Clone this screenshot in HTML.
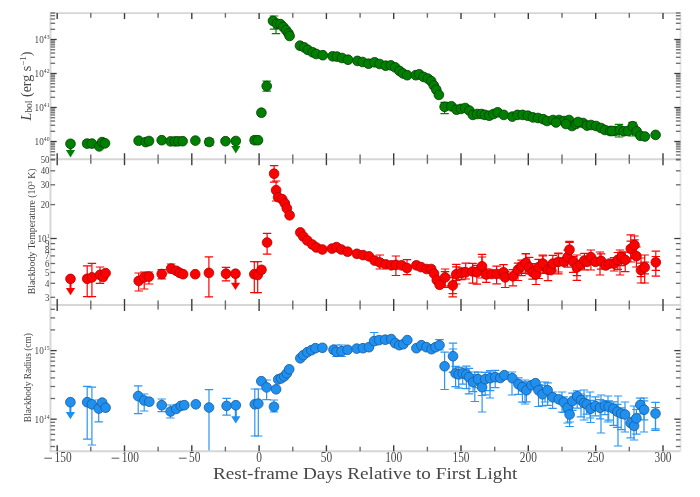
<!DOCTYPE html><html><head><meta charset="utf-8"><style>html,body{margin:0;padding:0;background:#fff;width:700px;height:497px;overflow:hidden;position:relative}</style></head><body><svg width="700" height="497" viewBox="0 0 700 497" style="position:absolute;left:0;top:0;filter:blur(0.4px)">
<defs>
<clipPath id="c0"><rect x="50.5" y="13.1" width="630.0" height="146.1"/></clipPath>
<clipPath id="c1"><rect x="50.5" y="159.2" width="630.0" height="145.8"/></clipPath>
<clipPath id="c2"><rect x="50.5" y="305.0" width="630.0" height="146.3"/></clipPath>
</defs>
<rect width="700" height="497" fill="#fff"/>
<g clip-path="url(#c0)">
<line x1="87.1" y1="140.5" x2="87.1" y2="146.5" stroke="#008000" stroke-width="1.2"/><line x1="82.9" y1="140.5" x2="91.3" y2="140.5" stroke="#008000" stroke-width="1.2"/><line x1="82.9" y1="146.5" x2="91.3" y2="146.5" stroke="#008000" stroke-width="1.2"/><line x1="209.2" y1="138.5" x2="209.2" y2="145.5" stroke="#008000" stroke-width="1.2"/><line x1="205.0" y1="138.5" x2="213.4" y2="138.5" stroke="#008000" stroke-width="1.2"/><line x1="205.0" y1="145.5" x2="213.4" y2="145.5" stroke="#008000" stroke-width="1.2"/><line x1="254.6" y1="137.0" x2="254.6" y2="143.5" stroke="#008000" stroke-width="1.2"/><line x1="250.4" y1="137.0" x2="258.8" y2="137.0" stroke="#008000" stroke-width="1.2"/><line x1="250.4" y1="143.5" x2="258.8" y2="143.5" stroke="#008000" stroke-width="1.2"/><line x1="266.7" y1="81.2" x2="266.7" y2="91.2" stroke="#008000" stroke-width="1.2"/><line x1="262.5" y1="81.2" x2="270.9" y2="81.2" stroke="#008000" stroke-width="1.2"/><line x1="262.5" y1="91.2" x2="270.9" y2="91.2" stroke="#008000" stroke-width="1.2"/><line x1="274.0" y1="16.0" x2="274.0" y2="29.2" stroke="#008000" stroke-width="1.2"/><line x1="269.8" y1="16.0" x2="278.2" y2="16.0" stroke="#008000" stroke-width="1.2"/><line x1="269.8" y1="29.2" x2="278.2" y2="29.2" stroke="#008000" stroke-width="1.2"/><line x1="276.0" y1="24.0" x2="276.0" y2="33.6" stroke="#008000" stroke-width="1.2"/><line x1="271.8" y1="24.0" x2="280.2" y2="24.0" stroke="#008000" stroke-width="1.2"/><line x1="271.8" y1="33.6" x2="280.2" y2="33.6" stroke="#008000" stroke-width="1.2"/><line x1="444.6" y1="102.3" x2="444.6" y2="113.7" stroke="#008000" stroke-width="1.2"/><line x1="440.4" y1="102.3" x2="448.8" y2="102.3" stroke="#008000" stroke-width="1.2"/><line x1="440.4" y1="113.7" x2="448.8" y2="113.7" stroke="#008000" stroke-width="1.2"/><line x1="619.0" y1="124.3" x2="619.0" y2="137.0" stroke="#008000" stroke-width="1.2"/><line x1="614.8" y1="124.3" x2="623.2" y2="124.3" stroke="#008000" stroke-width="1.2"/><line x1="614.8" y1="137.0" x2="623.2" y2="137.0" stroke="#008000" stroke-width="1.2"/><line x1="632.5" y1="122.4" x2="632.5" y2="136.0" stroke="#008000" stroke-width="1.2"/><line x1="628.3" y1="122.4" x2="636.7" y2="122.4" stroke="#008000" stroke-width="1.2"/><line x1="628.3" y1="136.0" x2="636.7" y2="136.0" stroke="#008000" stroke-width="1.2"/>
<line x1="70.5" y1="143.8" x2="70.5" y2="151.1" stroke="#008000" stroke-width="2"/><path d="M65.9 150.1 L75.1 150.1 L70.5 157.4Z" fill="#008000"/><line x1="235.8" y1="140.8" x2="235.8" y2="147.1" stroke="#008000" stroke-width="2"/><path d="M231.2 146.1 L240.4 146.1 L235.8 153.4Z" fill="#008000"/>
<circle cx="70.5" cy="143.8" r="4.85" fill="#008000" stroke="#003d00" stroke-width="0.8"/><circle cx="87.1" cy="143.6" r="4.85" fill="#008000" stroke="#003d00" stroke-width="0.8"/><circle cx="91.9" cy="143.6" r="4.85" fill="#008000" stroke="#003d00" stroke-width="0.8"/><circle cx="99.3" cy="146.4" r="4.85" fill="#008000" stroke="#003d00" stroke-width="0.8"/><circle cx="102.1" cy="142.1" r="4.85" fill="#008000" stroke="#003d00" stroke-width="0.8"/><circle cx="105.0" cy="143.3" r="4.85" fill="#008000" stroke="#003d00" stroke-width="0.8"/><circle cx="138.6" cy="140.7" r="4.85" fill="#008000" stroke="#003d00" stroke-width="0.8"/><circle cx="145.7" cy="142.1" r="4.85" fill="#008000" stroke="#003d00" stroke-width="0.8"/><circle cx="149.0" cy="141.0" r="4.85" fill="#008000" stroke="#003d00" stroke-width="0.8"/><circle cx="161.7" cy="140.2" r="4.85" fill="#008000" stroke="#003d00" stroke-width="0.8"/><circle cx="170.6" cy="141.4" r="4.85" fill="#008000" stroke="#003d00" stroke-width="0.8"/><circle cx="174.9" cy="141.4" r="4.85" fill="#008000" stroke="#003d00" stroke-width="0.8"/><circle cx="178.3" cy="141.3" r="4.85" fill="#008000" stroke="#003d00" stroke-width="0.8"/><circle cx="182.6" cy="141.2" r="4.85" fill="#008000" stroke="#003d00" stroke-width="0.8"/><circle cx="195.4" cy="140.6" r="4.85" fill="#008000" stroke="#003d00" stroke-width="0.8"/><circle cx="209.2" cy="142.0" r="4.85" fill="#008000" stroke="#003d00" stroke-width="0.8"/><circle cx="225.5" cy="141.2" r="4.85" fill="#008000" stroke="#003d00" stroke-width="0.8"/><circle cx="235.8" cy="141.0" r="4.85" fill="#008000" stroke="#003d00" stroke-width="0.8"/><circle cx="254.6" cy="140.2" r="4.85" fill="#008000" stroke="#003d00" stroke-width="0.8"/><circle cx="258.0" cy="140.2" r="4.85" fill="#008000" stroke="#003d00" stroke-width="0.8"/><circle cx="261.4" cy="112.7" r="4.85" fill="#008000" stroke="#003d00" stroke-width="0.8"/><circle cx="266.7" cy="86.1" r="4.85" fill="#008000" stroke="#003d00" stroke-width="0.8"/><circle cx="273.0" cy="20.9" r="4.85" fill="#008000" stroke="#003d00" stroke-width="0.8"/><circle cx="276.9" cy="23.7" r="4.85" fill="#008000" stroke="#003d00" stroke-width="0.8"/><circle cx="280.4" cy="24.1" r="4.85" fill="#008000" stroke="#003d00" stroke-width="0.8"/><circle cx="283.2" cy="26.9" r="4.85" fill="#008000" stroke="#003d00" stroke-width="0.8"/><circle cx="286.0" cy="30.1" r="4.85" fill="#008000" stroke="#003d00" stroke-width="0.8"/><circle cx="288.5" cy="33.4" r="4.85" fill="#008000" stroke="#003d00" stroke-width="0.8"/><circle cx="289.6" cy="36.0" r="4.85" fill="#008000" stroke="#003d00" stroke-width="0.8"/><circle cx="300.0" cy="45.7" r="4.85" fill="#008000" stroke="#003d00" stroke-width="0.8"/><circle cx="304.2" cy="47.4" r="4.85" fill="#008000" stroke="#003d00" stroke-width="0.8"/><circle cx="307.8" cy="49.9" r="4.85" fill="#008000" stroke="#003d00" stroke-width="0.8"/><circle cx="312.6" cy="52.3" r="4.85" fill="#008000" stroke="#003d00" stroke-width="0.8"/><circle cx="316.3" cy="54.0" r="4.85" fill="#008000" stroke="#003d00" stroke-width="0.8"/><circle cx="322.8" cy="55.2" r="4.85" fill="#008000" stroke="#003d00" stroke-width="0.8"/><circle cx="332.6" cy="56.3" r="4.85" fill="#008000" stroke="#003d00" stroke-width="0.8"/><circle cx="336.9" cy="56.6" r="4.85" fill="#008000" stroke="#003d00" stroke-width="0.8"/><circle cx="342.0" cy="58.0" r="4.85" fill="#008000" stroke="#003d00" stroke-width="0.8"/><circle cx="348.0" cy="59.7" r="4.85" fill="#008000" stroke="#003d00" stroke-width="0.8"/><circle cx="357.4" cy="60.9" r="4.85" fill="#008000" stroke="#003d00" stroke-width="0.8"/><circle cx="362.6" cy="62.0" r="4.85" fill="#008000" stroke="#003d00" stroke-width="0.8"/><circle cx="368.6" cy="63.7" r="4.85" fill="#008000" stroke="#003d00" stroke-width="0.8"/><circle cx="374.6" cy="62.3" r="4.85" fill="#008000" stroke="#003d00" stroke-width="0.8"/><circle cx="379.7" cy="64.0" r="4.85" fill="#008000" stroke="#003d00" stroke-width="0.8"/><circle cx="385.7" cy="65.7" r="4.85" fill="#008000" stroke="#003d00" stroke-width="0.8"/><circle cx="390.9" cy="65.4" r="4.85" fill="#008000" stroke="#003d00" stroke-width="0.8"/><circle cx="395.2" cy="67.4" r="4.85" fill="#008000" stroke="#003d00" stroke-width="0.8"/><circle cx="399.5" cy="70.9" r="4.85" fill="#008000" stroke="#003d00" stroke-width="0.8"/><circle cx="402.9" cy="73.4" r="4.85" fill="#008000" stroke="#003d00" stroke-width="0.8"/><circle cx="407.2" cy="75.2" r="4.85" fill="#008000" stroke="#003d00" stroke-width="0.8"/><circle cx="415.8" cy="75.2" r="4.85" fill="#008000" stroke="#003d00" stroke-width="0.8"/><circle cx="419.2" cy="74.3" r="4.85" fill="#008000" stroke="#003d00" stroke-width="0.8"/><circle cx="423.5" cy="76.9" r="4.85" fill="#008000" stroke="#003d00" stroke-width="0.8"/><circle cx="427.8" cy="78.6" r="4.85" fill="#008000" stroke="#003d00" stroke-width="0.8"/><circle cx="431.2" cy="81.2" r="4.85" fill="#008000" stroke="#003d00" stroke-width="0.8"/><circle cx="433.8" cy="85.5" r="4.85" fill="#008000" stroke="#003d00" stroke-width="0.8"/><circle cx="436.3" cy="89.7" r="4.85" fill="#008000" stroke="#003d00" stroke-width="0.8"/><circle cx="438.9" cy="94.9" r="4.85" fill="#008000" stroke="#003d00" stroke-width="0.8"/><circle cx="444.6" cy="106.8" r="4.85" fill="#008000" stroke="#003d00" stroke-width="0.8"/><circle cx="451.4" cy="106.3" r="4.85" fill="#008000" stroke="#003d00" stroke-width="0.8"/><circle cx="456.6" cy="109.7" r="4.85" fill="#008000" stroke="#003d00" stroke-width="0.8"/><circle cx="460.9" cy="108.9" r="4.85" fill="#008000" stroke="#003d00" stroke-width="0.8"/><circle cx="465.2" cy="108.0" r="4.85" fill="#008000" stroke="#003d00" stroke-width="0.8"/><circle cx="469.4" cy="110.6" r="4.85" fill="#008000" stroke="#003d00" stroke-width="0.8"/><circle cx="472.9" cy="114.9" r="4.85" fill="#008000" stroke="#003d00" stroke-width="0.8"/><circle cx="477.2" cy="114.0" r="4.85" fill="#008000" stroke="#003d00" stroke-width="0.8"/><circle cx="481.5" cy="114.0" r="4.85" fill="#008000" stroke="#003d00" stroke-width="0.8"/><circle cx="484.9" cy="114.9" r="4.85" fill="#008000" stroke="#003d00" stroke-width="0.8"/><circle cx="489.2" cy="115.7" r="4.85" fill="#008000" stroke="#003d00" stroke-width="0.8"/><circle cx="493.5" cy="114.0" r="4.85" fill="#008000" stroke="#003d00" stroke-width="0.8"/><circle cx="497.7" cy="112.3" r="4.85" fill="#008000" stroke="#003d00" stroke-width="0.8"/><circle cx="503.8" cy="114.9" r="4.85" fill="#008000" stroke="#003d00" stroke-width="0.8"/><circle cx="512.3" cy="116.6" r="4.85" fill="#008000" stroke="#003d00" stroke-width="0.8"/><circle cx="517.5" cy="114.9" r="4.85" fill="#008000" stroke="#003d00" stroke-width="0.8"/><circle cx="522.6" cy="114.9" r="4.85" fill="#008000" stroke="#003d00" stroke-width="0.8"/><circle cx="527.8" cy="115.7" r="4.85" fill="#008000" stroke="#003d00" stroke-width="0.8"/><circle cx="532.9" cy="117.4" r="4.85" fill="#008000" stroke="#003d00" stroke-width="0.8"/><circle cx="538.0" cy="118.0" r="4.85" fill="#008000" stroke="#003d00" stroke-width="0.8"/><circle cx="543.2" cy="119.2" r="4.85" fill="#008000" stroke="#003d00" stroke-width="0.8"/><circle cx="547.0" cy="121.0" r="4.85" fill="#008000" stroke="#003d00" stroke-width="0.8"/><circle cx="553.0" cy="120.0" r="4.85" fill="#008000" stroke="#003d00" stroke-width="0.8"/><circle cx="559.0" cy="120.0" r="4.85" fill="#008000" stroke="#003d00" stroke-width="0.8"/><circle cx="564.0" cy="121.0" r="4.85" fill="#008000" stroke="#003d00" stroke-width="0.8"/><circle cx="569.0" cy="120.0" r="4.85" fill="#008000" stroke="#003d00" stroke-width="0.8"/><circle cx="572.0" cy="126.0" r="4.85" fill="#008000" stroke="#003d00" stroke-width="0.8"/><circle cx="576.0" cy="124.0" r="4.85" fill="#008000" stroke="#003d00" stroke-width="0.8"/><circle cx="583.0" cy="123.0" r="4.85" fill="#008000" stroke="#003d00" stroke-width="0.8"/><circle cx="587.0" cy="125.6" r="4.85" fill="#008000" stroke="#003d00" stroke-width="0.8"/><circle cx="591.0" cy="125.0" r="4.85" fill="#008000" stroke="#003d00" stroke-width="0.8"/><circle cx="596.0" cy="126.0" r="4.85" fill="#008000" stroke="#003d00" stroke-width="0.8"/><circle cx="601.0" cy="128.0" r="4.85" fill="#008000" stroke="#003d00" stroke-width="0.8"/><circle cx="605.0" cy="130.0" r="4.85" fill="#008000" stroke="#003d00" stroke-width="0.8"/><circle cx="610.0" cy="131.0" r="4.85" fill="#008000" stroke="#003d00" stroke-width="0.8"/><circle cx="615.0" cy="131.0" r="4.85" fill="#008000" stroke="#003d00" stroke-width="0.8"/><circle cx="612.0" cy="131.0" r="4.85" fill="#008000" stroke="#003d00" stroke-width="0.8"/><circle cx="620.0" cy="130.0" r="4.85" fill="#008000" stroke="#003d00" stroke-width="0.8"/><circle cx="623.7" cy="131.3" r="4.85" fill="#008000" stroke="#003d00" stroke-width="0.8"/><circle cx="628.0" cy="131.0" r="4.85" fill="#008000" stroke="#003d00" stroke-width="0.8"/><circle cx="632.7" cy="126.2" r="4.85" fill="#008000" stroke="#003d00" stroke-width="0.8"/><circle cx="636.6" cy="131.3" r="4.85" fill="#008000" stroke="#003d00" stroke-width="0.8"/><circle cx="640.4" cy="135.8" r="4.85" fill="#008000" stroke="#003d00" stroke-width="0.8"/><circle cx="644.9" cy="136.5" r="4.85" fill="#008000" stroke="#003d00" stroke-width="0.8"/><circle cx="578.0" cy="122.0" r="4.85" fill="#008000" stroke="#003d00" stroke-width="0.8"/><circle cx="566.0" cy="124.0" r="4.85" fill="#008000" stroke="#003d00" stroke-width="0.8"/><circle cx="556.0" cy="122.5" r="4.85" fill="#008000" stroke="#003d00" stroke-width="0.8"/><circle cx="655.6" cy="134.9" r="4.85" fill="#008000" stroke="#003d00" stroke-width="0.8"/>
</g>
<g clip-path="url(#c1)">
<line x1="87.2" y1="265.8" x2="87.2" y2="296.6" stroke="#ff0000" stroke-width="1.2"/><line x1="83.0" y1="265.8" x2="91.4" y2="265.8" stroke="#ff0000" stroke-width="1.2"/><line x1="83.0" y1="296.6" x2="91.4" y2="296.6" stroke="#ff0000" stroke-width="1.2"/><line x1="91.9" y1="263.4" x2="91.9" y2="296.6" stroke="#ff0000" stroke-width="1.2"/><line x1="87.7" y1="263.4" x2="96.1" y2="263.4" stroke="#ff0000" stroke-width="1.2"/><line x1="87.7" y1="296.6" x2="96.1" y2="296.6" stroke="#ff0000" stroke-width="1.2"/><line x1="100.0" y1="267.0" x2="100.0" y2="283.4" stroke="#ff0000" stroke-width="1.2"/><line x1="95.8" y1="267.0" x2="104.2" y2="267.0" stroke="#ff0000" stroke-width="1.2"/><line x1="95.8" y1="283.4" x2="104.2" y2="283.4" stroke="#ff0000" stroke-width="1.2"/><line x1="138.7" y1="273.0" x2="138.7" y2="291.0" stroke="#ff0000" stroke-width="1.2"/><line x1="134.5" y1="273.0" x2="142.9" y2="273.0" stroke="#ff0000" stroke-width="1.2"/><line x1="134.5" y1="291.0" x2="142.9" y2="291.0" stroke="#ff0000" stroke-width="1.2"/><line x1="144.2" y1="272.0" x2="144.2" y2="289.0" stroke="#ff0000" stroke-width="1.2"/><line x1="140.0" y1="272.0" x2="148.4" y2="272.0" stroke="#ff0000" stroke-width="1.2"/><line x1="140.0" y1="289.0" x2="148.4" y2="289.0" stroke="#ff0000" stroke-width="1.2"/><line x1="149.0" y1="272.0" x2="149.0" y2="284.0" stroke="#ff0000" stroke-width="1.2"/><line x1="144.8" y1="272.0" x2="153.2" y2="272.0" stroke="#ff0000" stroke-width="1.2"/><line x1="144.8" y1="284.0" x2="153.2" y2="284.0" stroke="#ff0000" stroke-width="1.2"/><line x1="161.7" y1="269.7" x2="161.7" y2="278.8" stroke="#ff0000" stroke-width="1.2"/><line x1="157.5" y1="269.7" x2="165.9" y2="269.7" stroke="#ff0000" stroke-width="1.2"/><line x1="157.5" y1="278.8" x2="165.9" y2="278.8" stroke="#ff0000" stroke-width="1.2"/><line x1="171.1" y1="264.0" x2="171.1" y2="273.0" stroke="#ff0000" stroke-width="1.2"/><line x1="166.9" y1="264.0" x2="175.3" y2="264.0" stroke="#ff0000" stroke-width="1.2"/><line x1="166.9" y1="273.0" x2="175.3" y2="273.0" stroke="#ff0000" stroke-width="1.2"/><line x1="208.9" y1="256.9" x2="208.9" y2="296.9" stroke="#ff0000" stroke-width="1.2"/><line x1="204.7" y1="256.9" x2="213.1" y2="256.9" stroke="#ff0000" stroke-width="1.2"/><line x1="204.7" y1="296.9" x2="213.1" y2="296.9" stroke="#ff0000" stroke-width="1.2"/><line x1="226.0" y1="267.4" x2="226.0" y2="280.9" stroke="#ff0000" stroke-width="1.2"/><line x1="221.8" y1="267.4" x2="230.2" y2="267.4" stroke="#ff0000" stroke-width="1.2"/><line x1="221.8" y1="280.9" x2="230.2" y2="280.9" stroke="#ff0000" stroke-width="1.2"/><line x1="254.3" y1="261.7" x2="254.3" y2="292.6" stroke="#ff0000" stroke-width="1.2"/><line x1="250.1" y1="261.7" x2="258.5" y2="261.7" stroke="#ff0000" stroke-width="1.2"/><line x1="250.1" y1="292.6" x2="258.5" y2="292.6" stroke="#ff0000" stroke-width="1.2"/><line x1="257.7" y1="261.7" x2="257.7" y2="292.6" stroke="#ff0000" stroke-width="1.2"/><line x1="253.5" y1="261.7" x2="261.9" y2="261.7" stroke="#ff0000" stroke-width="1.2"/><line x1="253.5" y1="292.6" x2="261.9" y2="292.6" stroke="#ff0000" stroke-width="1.2"/><line x1="267.1" y1="233.4" x2="267.1" y2="254.2" stroke="#ff0000" stroke-width="1.2"/><line x1="262.9" y1="233.4" x2="271.3" y2="233.4" stroke="#ff0000" stroke-width="1.2"/><line x1="262.9" y1="254.2" x2="271.3" y2="254.2" stroke="#ff0000" stroke-width="1.2"/><line x1="274.1" y1="165.6" x2="274.1" y2="182.1" stroke="#ff0000" stroke-width="1.2"/><line x1="269.9" y1="165.6" x2="278.3" y2="165.6" stroke="#ff0000" stroke-width="1.2"/><line x1="269.9" y1="182.1" x2="278.3" y2="182.1" stroke="#ff0000" stroke-width="1.2"/><line x1="276.1" y1="181.0" x2="276.1" y2="201.0" stroke="#ff0000" stroke-width="1.2"/><line x1="271.9" y1="181.0" x2="280.3" y2="181.0" stroke="#ff0000" stroke-width="1.2"/><line x1="271.9" y1="201.0" x2="280.3" y2="201.0" stroke="#ff0000" stroke-width="1.2"/><line x1="379.8" y1="255.0" x2="379.8" y2="269.0" stroke="#ff0000" stroke-width="1.2"/><line x1="375.6" y1="255.0" x2="384.0" y2="255.0" stroke="#ff0000" stroke-width="1.2"/><line x1="375.6" y1="269.0" x2="384.0" y2="269.0" stroke="#ff0000" stroke-width="1.2"/><line x1="395.9" y1="256.0" x2="395.9" y2="275.5" stroke="#ff0000" stroke-width="1.2"/><line x1="391.7" y1="256.0" x2="400.1" y2="256.0" stroke="#ff0000" stroke-width="1.2"/><line x1="391.7" y1="275.5" x2="400.1" y2="275.5" stroke="#ff0000" stroke-width="1.2"/><line x1="407.0" y1="259.7" x2="407.0" y2="274.6" stroke="#ff0000" stroke-width="1.2"/><line x1="402.8" y1="259.7" x2="411.2" y2="259.7" stroke="#ff0000" stroke-width="1.2"/><line x1="402.8" y1="274.6" x2="411.2" y2="274.6" stroke="#ff0000" stroke-width="1.2"/><line x1="445.1" y1="269.0" x2="445.1" y2="286.0" stroke="#ff0000" stroke-width="1.2"/><line x1="440.9" y1="269.0" x2="449.3" y2="269.0" stroke="#ff0000" stroke-width="1.2"/><line x1="440.9" y1="286.0" x2="449.3" y2="286.0" stroke="#ff0000" stroke-width="1.2"/><line x1="452.7" y1="276.0" x2="452.7" y2="296.9" stroke="#ff0000" stroke-width="1.2"/><line x1="448.5" y1="276.0" x2="456.9" y2="276.0" stroke="#ff0000" stroke-width="1.2"/><line x1="448.5" y1="296.9" x2="456.9" y2="296.9" stroke="#ff0000" stroke-width="1.2"/><line x1="456.3" y1="264.4" x2="456.3" y2="284.0" stroke="#ff0000" stroke-width="1.2"/><line x1="452.1" y1="264.4" x2="460.5" y2="264.4" stroke="#ff0000" stroke-width="1.2"/><line x1="452.1" y1="284.0" x2="460.5" y2="284.0" stroke="#ff0000" stroke-width="1.2"/><line x1="482.0" y1="254.3" x2="482.0" y2="278.0" stroke="#ff0000" stroke-width="1.2"/><line x1="477.8" y1="254.3" x2="486.2" y2="254.3" stroke="#ff0000" stroke-width="1.2"/><line x1="477.8" y1="278.0" x2="486.2" y2="278.0" stroke="#ff0000" stroke-width="1.2"/><line x1="569.5" y1="241.4" x2="569.5" y2="262.0" stroke="#ff0000" stroke-width="1.2"/><line x1="565.3" y1="241.4" x2="573.7" y2="241.4" stroke="#ff0000" stroke-width="1.2"/><line x1="565.3" y1="262.0" x2="573.7" y2="262.0" stroke="#ff0000" stroke-width="1.2"/><line x1="576.9" y1="255.0" x2="576.9" y2="280.4" stroke="#ff0000" stroke-width="1.2"/><line x1="572.7" y1="255.0" x2="581.1" y2="255.0" stroke="#ff0000" stroke-width="1.2"/><line x1="572.7" y1="280.4" x2="581.1" y2="280.4" stroke="#ff0000" stroke-width="1.2"/><line x1="630.8" y1="234.9" x2="630.8" y2="262.0" stroke="#ff0000" stroke-width="1.2"/><line x1="626.6" y1="234.9" x2="635.0" y2="234.9" stroke="#ff0000" stroke-width="1.2"/><line x1="626.6" y1="262.0" x2="635.0" y2="262.0" stroke="#ff0000" stroke-width="1.2"/><line x1="634.5" y1="236.0" x2="634.5" y2="258.0" stroke="#ff0000" stroke-width="1.2"/><line x1="630.3" y1="236.0" x2="638.7" y2="236.0" stroke="#ff0000" stroke-width="1.2"/><line x1="630.3" y1="258.0" x2="638.7" y2="258.0" stroke="#ff0000" stroke-width="1.2"/><line x1="655.8" y1="251.2" x2="655.8" y2="276.1" stroke="#ff0000" stroke-width="1.2"/><line x1="651.6" y1="251.2" x2="660.0" y2="251.2" stroke="#ff0000" stroke-width="1.2"/><line x1="651.6" y1="276.1" x2="660.0" y2="276.1" stroke="#ff0000" stroke-width="1.2"/><line x1="641.0" y1="258.0" x2="641.0" y2="283.0" stroke="#ff0000" stroke-width="1.2"/><line x1="636.8" y1="258.0" x2="645.2" y2="258.0" stroke="#ff0000" stroke-width="1.2"/><line x1="636.8" y1="283.0" x2="645.2" y2="283.0" stroke="#ff0000" stroke-width="1.2"/><line x1="644.7" y1="255.0" x2="644.7" y2="283.0" stroke="#ff0000" stroke-width="1.2"/><line x1="640.5" y1="255.0" x2="648.9" y2="255.0" stroke="#ff0000" stroke-width="1.2"/><line x1="640.5" y1="283.0" x2="648.9" y2="283.0" stroke="#ff0000" stroke-width="1.2"/><line x1="600.0" y1="252.0" x2="600.0" y2="275.0" stroke="#ff0000" stroke-width="1.2"/><line x1="595.8" y1="252.0" x2="604.2" y2="252.0" stroke="#ff0000" stroke-width="1.2"/><line x1="595.8" y1="275.0" x2="604.2" y2="275.0" stroke="#ff0000" stroke-width="1.2"/><line x1="620.0" y1="250.0" x2="620.0" y2="275.0" stroke="#ff0000" stroke-width="1.2"/><line x1="615.8" y1="250.0" x2="624.2" y2="250.0" stroke="#ff0000" stroke-width="1.2"/><line x1="615.8" y1="275.0" x2="624.2" y2="275.0" stroke="#ff0000" stroke-width="1.2"/><line x1="525.8" y1="254.0" x2="525.8" y2="272.0" stroke="#ff0000" stroke-width="1.2"/><line x1="521.6" y1="254.0" x2="530.0" y2="254.0" stroke="#ff0000" stroke-width="1.2"/><line x1="521.6" y1="272.0" x2="530.0" y2="272.0" stroke="#ff0000" stroke-width="1.2"/><line x1="542.9" y1="256.0" x2="542.9" y2="273.0" stroke="#ff0000" stroke-width="1.2"/><line x1="538.7" y1="256.0" x2="547.1" y2="256.0" stroke="#ff0000" stroke-width="1.2"/><line x1="538.7" y1="273.0" x2="547.1" y2="273.0" stroke="#ff0000" stroke-width="1.2"/><line x1="558.4" y1="253.0" x2="558.4" y2="272.0" stroke="#ff0000" stroke-width="1.2"/><line x1="554.2" y1="253.0" x2="562.6" y2="253.0" stroke="#ff0000" stroke-width="1.2"/><line x1="554.2" y1="272.0" x2="562.6" y2="272.0" stroke="#ff0000" stroke-width="1.2"/><line x1="590.9" y1="250.0" x2="590.9" y2="270.0" stroke="#ff0000" stroke-width="1.2"/><line x1="586.7" y1="250.0" x2="595.1" y2="250.0" stroke="#ff0000" stroke-width="1.2"/><line x1="586.7" y1="270.0" x2="595.1" y2="270.0" stroke="#ff0000" stroke-width="1.2"/><line x1="445.1" y1="271.6" x2="445.1" y2="287.3" stroke="#ff0000" stroke-width="1.2"/><line x1="440.9" y1="271.6" x2="449.3" y2="271.6" stroke="#ff0000" stroke-width="1.2"/><line x1="440.9" y1="287.3" x2="449.3" y2="287.3" stroke="#ff0000" stroke-width="1.2"/><line x1="452.7" y1="277.7" x2="452.7" y2="293.6" stroke="#ff0000" stroke-width="1.2"/><line x1="448.5" y1="277.7" x2="456.9" y2="277.7" stroke="#ff0000" stroke-width="1.2"/><line x1="448.5" y1="293.6" x2="456.9" y2="293.6" stroke="#ff0000" stroke-width="1.2"/><line x1="456.3" y1="266.8" x2="456.3" y2="280.5" stroke="#ff0000" stroke-width="1.2"/><line x1="452.1" y1="266.8" x2="460.5" y2="266.8" stroke="#ff0000" stroke-width="1.2"/><line x1="452.1" y1="280.5" x2="460.5" y2="280.5" stroke="#ff0000" stroke-width="1.2"/><line x1="461.4" y1="267.8" x2="461.4" y2="279.6" stroke="#ff0000" stroke-width="1.2"/><line x1="457.2" y1="267.8" x2="465.6" y2="267.8" stroke="#ff0000" stroke-width="1.2"/><line x1="457.2" y1="279.6" x2="465.6" y2="279.6" stroke="#ff0000" stroke-width="1.2"/><line x1="465.7" y1="263.2" x2="465.7" y2="279.0" stroke="#ff0000" stroke-width="1.2"/><line x1="461.5" y1="263.2" x2="469.9" y2="263.2" stroke="#ff0000" stroke-width="1.2"/><line x1="461.5" y1="279.0" x2="469.9" y2="279.0" stroke="#ff0000" stroke-width="1.2"/><line x1="472.6" y1="263.4" x2="472.6" y2="283.2" stroke="#ff0000" stroke-width="1.2"/><line x1="468.4" y1="263.4" x2="476.8" y2="263.4" stroke="#ff0000" stroke-width="1.2"/><line x1="468.4" y1="283.2" x2="476.8" y2="283.2" stroke="#ff0000" stroke-width="1.2"/><line x1="476.9" y1="265.3" x2="476.9" y2="284.2" stroke="#ff0000" stroke-width="1.2"/><line x1="472.7" y1="265.3" x2="481.1" y2="265.3" stroke="#ff0000" stroke-width="1.2"/><line x1="472.7" y1="284.2" x2="481.1" y2="284.2" stroke="#ff0000" stroke-width="1.2"/><line x1="482.0" y1="257.0" x2="482.0" y2="274.0" stroke="#ff0000" stroke-width="1.2"/><line x1="477.8" y1="257.0" x2="486.2" y2="257.0" stroke="#ff0000" stroke-width="1.2"/><line x1="477.8" y1="274.0" x2="486.2" y2="274.0" stroke="#ff0000" stroke-width="1.2"/><line x1="486.3" y1="268.9" x2="486.3" y2="282.4" stroke="#ff0000" stroke-width="1.2"/><line x1="482.1" y1="268.9" x2="490.5" y2="268.9" stroke="#ff0000" stroke-width="1.2"/><line x1="482.1" y1="282.4" x2="490.5" y2="282.4" stroke="#ff0000" stroke-width="1.2"/><line x1="496.6" y1="266.1" x2="496.6" y2="283.8" stroke="#ff0000" stroke-width="1.2"/><line x1="492.4" y1="266.1" x2="500.8" y2="266.1" stroke="#ff0000" stroke-width="1.2"/><line x1="492.4" y1="283.8" x2="500.8" y2="283.8" stroke="#ff0000" stroke-width="1.2"/><line x1="503.5" y1="264.6" x2="503.5" y2="278.7" stroke="#ff0000" stroke-width="1.2"/><line x1="499.3" y1="264.6" x2="507.7" y2="264.6" stroke="#ff0000" stroke-width="1.2"/><line x1="499.3" y1="278.7" x2="507.7" y2="278.7" stroke="#ff0000" stroke-width="1.2"/><line x1="505.2" y1="271.4" x2="505.2" y2="287.5" stroke="#ff0000" stroke-width="1.2"/><line x1="501.0" y1="271.4" x2="509.4" y2="271.4" stroke="#ff0000" stroke-width="1.2"/><line x1="501.0" y1="287.5" x2="509.4" y2="287.5" stroke="#ff0000" stroke-width="1.2"/><line x1="512.9" y1="269.7" x2="512.9" y2="285.8" stroke="#ff0000" stroke-width="1.2"/><line x1="508.7" y1="269.7" x2="517.1" y2="269.7" stroke="#ff0000" stroke-width="1.2"/><line x1="508.7" y1="285.8" x2="517.1" y2="285.8" stroke="#ff0000" stroke-width="1.2"/><line x1="518.0" y1="263.2" x2="518.0" y2="280.5" stroke="#ff0000" stroke-width="1.2"/><line x1="513.8" y1="263.2" x2="522.2" y2="263.2" stroke="#ff0000" stroke-width="1.2"/><line x1="513.8" y1="280.5" x2="522.2" y2="280.5" stroke="#ff0000" stroke-width="1.2"/><line x1="521.5" y1="260.1" x2="521.5" y2="275.7" stroke="#ff0000" stroke-width="1.2"/><line x1="517.3" y1="260.1" x2="525.7" y2="260.1" stroke="#ff0000" stroke-width="1.2"/><line x1="517.3" y1="275.7" x2="525.7" y2="275.7" stroke="#ff0000" stroke-width="1.2"/><line x1="525.8" y1="253.5" x2="525.8" y2="273.3" stroke="#ff0000" stroke-width="1.2"/><line x1="521.6" y1="253.5" x2="530.0" y2="253.5" stroke="#ff0000" stroke-width="1.2"/><line x1="521.6" y1="273.3" x2="530.0" y2="273.3" stroke="#ff0000" stroke-width="1.2"/><line x1="529.2" y1="257.3" x2="529.2" y2="273.9" stroke="#ff0000" stroke-width="1.2"/><line x1="525.0" y1="257.3" x2="533.4" y2="257.3" stroke="#ff0000" stroke-width="1.2"/><line x1="525.0" y1="273.9" x2="533.4" y2="273.9" stroke="#ff0000" stroke-width="1.2"/><line x1="532.6" y1="263.5" x2="532.6" y2="279.2" stroke="#ff0000" stroke-width="1.2"/><line x1="528.4" y1="263.5" x2="536.8" y2="263.5" stroke="#ff0000" stroke-width="1.2"/><line x1="528.4" y1="279.2" x2="536.8" y2="279.2" stroke="#ff0000" stroke-width="1.2"/><line x1="536.0" y1="269.3" x2="536.0" y2="284.5" stroke="#ff0000" stroke-width="1.2"/><line x1="531.8" y1="269.3" x2="540.2" y2="269.3" stroke="#ff0000" stroke-width="1.2"/><line x1="531.8" y1="284.5" x2="540.2" y2="284.5" stroke="#ff0000" stroke-width="1.2"/><line x1="538.6" y1="259.3" x2="538.6" y2="278.5" stroke="#ff0000" stroke-width="1.2"/><line x1="534.4" y1="259.3" x2="542.8" y2="259.3" stroke="#ff0000" stroke-width="1.2"/><line x1="534.4" y1="278.5" x2="542.8" y2="278.5" stroke="#ff0000" stroke-width="1.2"/><line x1="542.9" y1="255.2" x2="542.9" y2="273.3" stroke="#ff0000" stroke-width="1.2"/><line x1="538.7" y1="255.2" x2="547.1" y2="255.2" stroke="#ff0000" stroke-width="1.2"/><line x1="538.7" y1="273.3" x2="547.1" y2="273.3" stroke="#ff0000" stroke-width="1.2"/><line x1="548.0" y1="262.4" x2="548.0" y2="280.7" stroke="#ff0000" stroke-width="1.2"/><line x1="543.8" y1="262.4" x2="552.2" y2="262.4" stroke="#ff0000" stroke-width="1.2"/><line x1="543.8" y1="280.7" x2="552.2" y2="280.7" stroke="#ff0000" stroke-width="1.2"/><line x1="552.8" y1="255.3" x2="552.8" y2="270.0" stroke="#ff0000" stroke-width="1.2"/><line x1="548.6" y1="255.3" x2="557.0" y2="255.3" stroke="#ff0000" stroke-width="1.2"/><line x1="548.6" y1="270.0" x2="557.0" y2="270.0" stroke="#ff0000" stroke-width="1.2"/><line x1="558.4" y1="253.6" x2="558.4" y2="273.8" stroke="#ff0000" stroke-width="1.2"/><line x1="554.2" y1="253.6" x2="562.6" y2="253.6" stroke="#ff0000" stroke-width="1.2"/><line x1="554.2" y1="273.8" x2="562.6" y2="273.8" stroke="#ff0000" stroke-width="1.2"/><line x1="567.6" y1="250.2" x2="567.6" y2="267.1" stroke="#ff0000" stroke-width="1.2"/><line x1="563.4" y1="250.2" x2="571.8" y2="250.2" stroke="#ff0000" stroke-width="1.2"/><line x1="563.4" y1="267.1" x2="571.8" y2="267.1" stroke="#ff0000" stroke-width="1.2"/><line x1="569.5" y1="242.4" x2="569.5" y2="256.7" stroke="#ff0000" stroke-width="1.2"/><line x1="565.3" y1="242.4" x2="573.7" y2="242.4" stroke="#ff0000" stroke-width="1.2"/><line x1="565.3" y1="256.7" x2="573.7" y2="256.7" stroke="#ff0000" stroke-width="1.2"/><line x1="573.2" y1="256.5" x2="573.2" y2="272.4" stroke="#ff0000" stroke-width="1.2"/><line x1="569.0" y1="256.5" x2="577.4" y2="256.5" stroke="#ff0000" stroke-width="1.2"/><line x1="569.0" y1="272.4" x2="577.4" y2="272.4" stroke="#ff0000" stroke-width="1.2"/><line x1="576.9" y1="261.2" x2="576.9" y2="275.7" stroke="#ff0000" stroke-width="1.2"/><line x1="572.7" y1="261.2" x2="581.1" y2="261.2" stroke="#ff0000" stroke-width="1.2"/><line x1="572.7" y1="275.7" x2="581.1" y2="275.7" stroke="#ff0000" stroke-width="1.2"/><line x1="584.4" y1="253.3" x2="584.4" y2="269.8" stroke="#ff0000" stroke-width="1.2"/><line x1="580.2" y1="253.3" x2="588.6" y2="253.3" stroke="#ff0000" stroke-width="1.2"/><line x1="580.2" y1="269.8" x2="588.6" y2="269.8" stroke="#ff0000" stroke-width="1.2"/><line x1="601.1" y1="253.8" x2="601.1" y2="269.1" stroke="#ff0000" stroke-width="1.2"/><line x1="596.9" y1="253.8" x2="605.3" y2="253.8" stroke="#ff0000" stroke-width="1.2"/><line x1="596.9" y1="269.1" x2="605.3" y2="269.1" stroke="#ff0000" stroke-width="1.2"/><line x1="614.1" y1="257.7" x2="614.1" y2="271.0" stroke="#ff0000" stroke-width="1.2"/><line x1="609.9" y1="257.7" x2="618.3" y2="257.7" stroke="#ff0000" stroke-width="1.2"/><line x1="609.9" y1="271.0" x2="618.3" y2="271.0" stroke="#ff0000" stroke-width="1.2"/><line x1="617.8" y1="252.5" x2="617.8" y2="269.4" stroke="#ff0000" stroke-width="1.2"/><line x1="613.6" y1="252.5" x2="622.0" y2="252.5" stroke="#ff0000" stroke-width="1.2"/><line x1="613.6" y1="269.4" x2="622.0" y2="269.4" stroke="#ff0000" stroke-width="1.2"/><line x1="621.5" y1="252.1" x2="621.5" y2="265.6" stroke="#ff0000" stroke-width="1.2"/><line x1="617.3" y1="252.1" x2="625.7" y2="252.1" stroke="#ff0000" stroke-width="1.2"/><line x1="617.3" y1="265.6" x2="625.7" y2="265.6" stroke="#ff0000" stroke-width="1.2"/><line x1="625.2" y1="252.1" x2="625.2" y2="271.6" stroke="#ff0000" stroke-width="1.2"/><line x1="621.0" y1="252.1" x2="629.4" y2="252.1" stroke="#ff0000" stroke-width="1.2"/><line x1="621.0" y1="271.6" x2="629.4" y2="271.6" stroke="#ff0000" stroke-width="1.2"/><line x1="630.8" y1="241.2" x2="630.8" y2="258.5" stroke="#ff0000" stroke-width="1.2"/><line x1="626.6" y1="241.2" x2="635.0" y2="241.2" stroke="#ff0000" stroke-width="1.2"/><line x1="626.6" y1="258.5" x2="635.0" y2="258.5" stroke="#ff0000" stroke-width="1.2"/><line x1="634.5" y1="239.8" x2="634.5" y2="256.5" stroke="#ff0000" stroke-width="1.2"/><line x1="630.3" y1="239.8" x2="638.7" y2="239.8" stroke="#ff0000" stroke-width="1.2"/><line x1="630.3" y1="256.5" x2="638.7" y2="256.5" stroke="#ff0000" stroke-width="1.2"/><line x1="636.4" y1="246.8" x2="636.4" y2="267.0" stroke="#ff0000" stroke-width="1.2"/><line x1="632.2" y1="246.8" x2="640.6" y2="246.8" stroke="#ff0000" stroke-width="1.2"/><line x1="632.2" y1="267.0" x2="640.6" y2="267.0" stroke="#ff0000" stroke-width="1.2"/><line x1="641.0" y1="263.1" x2="641.0" y2="276.7" stroke="#ff0000" stroke-width="1.2"/><line x1="636.8" y1="263.1" x2="645.2" y2="263.1" stroke="#ff0000" stroke-width="1.2"/><line x1="636.8" y1="276.7" x2="645.2" y2="276.7" stroke="#ff0000" stroke-width="1.2"/><line x1="644.7" y1="262.1" x2="644.7" y2="273.8" stroke="#ff0000" stroke-width="1.2"/><line x1="640.5" y1="262.1" x2="648.9" y2="262.1" stroke="#ff0000" stroke-width="1.2"/><line x1="640.5" y1="273.8" x2="648.9" y2="273.8" stroke="#ff0000" stroke-width="1.2"/><line x1="655.8" y1="256.5" x2="655.8" y2="270.3" stroke="#ff0000" stroke-width="1.2"/><line x1="651.6" y1="256.5" x2="660.0" y2="256.5" stroke="#ff0000" stroke-width="1.2"/><line x1="651.6" y1="270.3" x2="660.0" y2="270.3" stroke="#ff0000" stroke-width="1.2"/>
<line x1="70.5" y1="278.9" x2="70.5" y2="288.9" stroke="#ff0000" stroke-width="2"/><path d="M65.9 287.9 L75.1 287.9 L70.5 295.2Z" fill="#ff0000"/><line x1="235.5" y1="273.7" x2="235.5" y2="283.8" stroke="#ff0000" stroke-width="2"/><path d="M230.9 282.8 L240.1 282.8 L235.5 290.1Z" fill="#ff0000"/>
<circle cx="70.5" cy="278.9" r="4.85" fill="#ff0000" stroke="#b00000" stroke-width="0.8"/><circle cx="87.2" cy="278.8" r="4.85" fill="#ff0000" stroke="#b00000" stroke-width="0.8"/><circle cx="91.9" cy="277.4" r="4.85" fill="#ff0000" stroke="#b00000" stroke-width="0.8"/><circle cx="100.0" cy="274.9" r="4.85" fill="#ff0000" stroke="#b00000" stroke-width="0.8"/><circle cx="103.0" cy="277.0" r="4.85" fill="#ff0000" stroke="#b00000" stroke-width="0.8"/><circle cx="105.6" cy="273.1" r="4.85" fill="#ff0000" stroke="#b00000" stroke-width="0.8"/><circle cx="138.7" cy="280.9" r="4.85" fill="#ff0000" stroke="#b00000" stroke-width="0.8"/><circle cx="144.2" cy="277.4" r="4.85" fill="#ff0000" stroke="#b00000" stroke-width="0.8"/><circle cx="149.0" cy="276.6" r="4.85" fill="#ff0000" stroke="#b00000" stroke-width="0.8"/><circle cx="161.7" cy="274.0" r="4.85" fill="#ff0000" stroke="#b00000" stroke-width="0.8"/><circle cx="171.1" cy="268.6" r="4.85" fill="#ff0000" stroke="#b00000" stroke-width="0.8"/><circle cx="176.3" cy="270.8" r="4.85" fill="#ff0000" stroke="#b00000" stroke-width="0.8"/><circle cx="179.7" cy="272.9" r="4.85" fill="#ff0000" stroke="#b00000" stroke-width="0.8"/><circle cx="183.1" cy="274.2" r="4.85" fill="#ff0000" stroke="#b00000" stroke-width="0.8"/><circle cx="195.2" cy="274.2" r="4.85" fill="#ff0000" stroke="#b00000" stroke-width="0.8"/><circle cx="208.9" cy="272.9" r="4.85" fill="#ff0000" stroke="#b00000" stroke-width="0.8"/><circle cx="226.0" cy="273.7" r="4.85" fill="#ff0000" stroke="#b00000" stroke-width="0.8"/><circle cx="235.5" cy="273.7" r="4.85" fill="#ff0000" stroke="#b00000" stroke-width="0.8"/><circle cx="254.3" cy="274.2" r="4.85" fill="#ff0000" stroke="#b00000" stroke-width="0.8"/><circle cx="257.7" cy="275.0" r="4.85" fill="#ff0000" stroke="#b00000" stroke-width="0.8"/><circle cx="261.5" cy="269.8" r="4.85" fill="#ff0000" stroke="#b00000" stroke-width="0.8"/><circle cx="267.1" cy="242.5" r="4.85" fill="#ff0000" stroke="#b00000" stroke-width="0.8"/><circle cx="274.1" cy="173.7" r="4.85" fill="#ff0000" stroke="#b00000" stroke-width="0.8"/><circle cx="276.1" cy="190.2" r="4.85" fill="#ff0000" stroke="#b00000" stroke-width="0.8"/><circle cx="278.1" cy="197.2" r="4.85" fill="#ff0000" stroke="#b00000" stroke-width="0.8"/><circle cx="282.2" cy="199.2" r="4.85" fill="#ff0000" stroke="#b00000" stroke-width="0.8"/><circle cx="284.8" cy="203.3" r="4.85" fill="#ff0000" stroke="#b00000" stroke-width="0.8"/><circle cx="286.8" cy="208.3" r="4.85" fill="#ff0000" stroke="#b00000" stroke-width="0.8"/><circle cx="289.6" cy="215.3" r="4.85" fill="#ff0000" stroke="#b00000" stroke-width="0.8"/><circle cx="300.3" cy="232.4" r="4.85" fill="#ff0000" stroke="#b00000" stroke-width="0.8"/><circle cx="303.3" cy="236.5" r="4.85" fill="#ff0000" stroke="#b00000" stroke-width="0.8"/><circle cx="307.3" cy="240.5" r="4.85" fill="#ff0000" stroke="#b00000" stroke-width="0.8"/><circle cx="312.3" cy="244.5" r="4.85" fill="#ff0000" stroke="#b00000" stroke-width="0.8"/><circle cx="316.4" cy="247.5" r="4.85" fill="#ff0000" stroke="#b00000" stroke-width="0.8"/><circle cx="322.4" cy="249.5" r="4.85" fill="#ff0000" stroke="#b00000" stroke-width="0.8"/><circle cx="331.9" cy="248.6" r="4.85" fill="#ff0000" stroke="#b00000" stroke-width="0.8"/><circle cx="336.5" cy="247.1" r="4.85" fill="#ff0000" stroke="#b00000" stroke-width="0.8"/><circle cx="341.3" cy="249.5" r="4.85" fill="#ff0000" stroke="#b00000" stroke-width="0.8"/><circle cx="347.6" cy="251.7" r="4.85" fill="#ff0000" stroke="#b00000" stroke-width="0.8"/><circle cx="356.9" cy="253.8" r="4.85" fill="#ff0000" stroke="#b00000" stroke-width="0.8"/><circle cx="363.0" cy="255.1" r="4.85" fill="#ff0000" stroke="#b00000" stroke-width="0.8"/><circle cx="369.0" cy="256.4" r="4.85" fill="#ff0000" stroke="#b00000" stroke-width="0.8"/><circle cx="374.6" cy="260.6" r="4.85" fill="#ff0000" stroke="#b00000" stroke-width="0.8"/><circle cx="379.8" cy="262.5" r="4.85" fill="#ff0000" stroke="#b00000" stroke-width="0.8"/><circle cx="385.7" cy="264.4" r="4.85" fill="#ff0000" stroke="#b00000" stroke-width="0.8"/><circle cx="391.3" cy="265.3" r="4.85" fill="#ff0000" stroke="#b00000" stroke-width="0.8"/><circle cx="395.9" cy="264.9" r="4.85" fill="#ff0000" stroke="#b00000" stroke-width="0.8"/><circle cx="401.5" cy="265.3" r="4.85" fill="#ff0000" stroke="#b00000" stroke-width="0.8"/><circle cx="407.0" cy="268.0" r="4.85" fill="#ff0000" stroke="#b00000" stroke-width="0.8"/><circle cx="416.4" cy="265.3" r="4.85" fill="#ff0000" stroke="#b00000" stroke-width="0.8"/><circle cx="421.0" cy="267.1" r="4.85" fill="#ff0000" stroke="#b00000" stroke-width="0.8"/><circle cx="426.6" cy="269.0" r="4.85" fill="#ff0000" stroke="#b00000" stroke-width="0.8"/><circle cx="431.2" cy="269.0" r="4.85" fill="#ff0000" stroke="#b00000" stroke-width="0.8"/><circle cx="434.0" cy="273.6" r="4.85" fill="#ff0000" stroke="#b00000" stroke-width="0.8"/><circle cx="436.8" cy="280.1" r="4.85" fill="#ff0000" stroke="#b00000" stroke-width="0.8"/><circle cx="439.6" cy="284.8" r="4.85" fill="#ff0000" stroke="#b00000" stroke-width="0.8"/><circle cx="445.1" cy="277.4" r="4.85" fill="#ff0000" stroke="#b00000" stroke-width="0.8"/><circle cx="452.7" cy="285.4" r="4.85" fill="#ff0000" stroke="#b00000" stroke-width="0.8"/><circle cx="456.3" cy="274.3" r="4.85" fill="#ff0000" stroke="#b00000" stroke-width="0.8"/><circle cx="461.4" cy="273.1" r="4.85" fill="#ff0000" stroke="#b00000" stroke-width="0.8"/><circle cx="465.7" cy="272.3" r="4.85" fill="#ff0000" stroke="#b00000" stroke-width="0.8"/><circle cx="472.6" cy="271.5" r="4.85" fill="#ff0000" stroke="#b00000" stroke-width="0.8"/><circle cx="476.9" cy="272.3" r="4.85" fill="#ff0000" stroke="#b00000" stroke-width="0.8"/><circle cx="482.0" cy="266.3" r="4.85" fill="#ff0000" stroke="#b00000" stroke-width="0.8"/><circle cx="486.3" cy="274.5" r="4.85" fill="#ff0000" stroke="#b00000" stroke-width="0.8"/><circle cx="491.5" cy="274.0" r="4.85" fill="#ff0000" stroke="#b00000" stroke-width="0.8"/><circle cx="496.6" cy="274.0" r="4.85" fill="#ff0000" stroke="#b00000" stroke-width="0.8"/><circle cx="503.5" cy="272.3" r="4.85" fill="#ff0000" stroke="#b00000" stroke-width="0.8"/><circle cx="505.2" cy="277.4" r="4.85" fill="#ff0000" stroke="#b00000" stroke-width="0.8"/><circle cx="512.9" cy="276.3" r="4.85" fill="#ff0000" stroke="#b00000" stroke-width="0.8"/><circle cx="518.0" cy="269.7" r="4.85" fill="#ff0000" stroke="#b00000" stroke-width="0.8"/><circle cx="521.5" cy="266.3" r="4.85" fill="#ff0000" stroke="#b00000" stroke-width="0.8"/><circle cx="525.8" cy="262.9" r="4.85" fill="#ff0000" stroke="#b00000" stroke-width="0.8"/><circle cx="529.2" cy="267.2" r="4.85" fill="#ff0000" stroke="#b00000" stroke-width="0.8"/><circle cx="532.6" cy="272.3" r="4.85" fill="#ff0000" stroke="#b00000" stroke-width="0.8"/><circle cx="536.0" cy="274.5" r="4.85" fill="#ff0000" stroke="#b00000" stroke-width="0.8"/><circle cx="538.6" cy="267.2" r="4.85" fill="#ff0000" stroke="#b00000" stroke-width="0.8"/><circle cx="542.9" cy="263.7" r="4.85" fill="#ff0000" stroke="#b00000" stroke-width="0.8"/><circle cx="548.0" cy="269.7" r="4.85" fill="#ff0000" stroke="#b00000" stroke-width="0.8"/><circle cx="551.0" cy="270.1" r="4.85" fill="#ff0000" stroke="#b00000" stroke-width="0.8"/><circle cx="552.8" cy="263.6" r="4.85" fill="#ff0000" stroke="#b00000" stroke-width="0.8"/><circle cx="558.4" cy="261.8" r="4.85" fill="#ff0000" stroke="#b00000" stroke-width="0.8"/><circle cx="563.9" cy="261.8" r="4.85" fill="#ff0000" stroke="#b00000" stroke-width="0.8"/><circle cx="567.6" cy="257.1" r="4.85" fill="#ff0000" stroke="#b00000" stroke-width="0.8"/><circle cx="569.5" cy="249.7" r="4.85" fill="#ff0000" stroke="#b00000" stroke-width="0.8"/><circle cx="573.2" cy="261.8" r="4.85" fill="#ff0000" stroke="#b00000" stroke-width="0.8"/><circle cx="576.9" cy="267.4" r="4.85" fill="#ff0000" stroke="#b00000" stroke-width="0.8"/><circle cx="580.6" cy="264.6" r="4.85" fill="#ff0000" stroke="#b00000" stroke-width="0.8"/><circle cx="584.4" cy="260.5" r="4.85" fill="#ff0000" stroke="#b00000" stroke-width="0.8"/><circle cx="587.1" cy="261.8" r="4.85" fill="#ff0000" stroke="#b00000" stroke-width="0.8"/><circle cx="590.9" cy="257.1" r="4.85" fill="#ff0000" stroke="#b00000" stroke-width="0.8"/><circle cx="595.5" cy="261.8" r="4.85" fill="#ff0000" stroke="#b00000" stroke-width="0.8"/><circle cx="601.1" cy="260.9" r="4.85" fill="#ff0000" stroke="#b00000" stroke-width="0.8"/><circle cx="605.7" cy="265.5" r="4.85" fill="#ff0000" stroke="#b00000" stroke-width="0.8"/><circle cx="609.4" cy="263.6" r="4.85" fill="#ff0000" stroke="#b00000" stroke-width="0.8"/><circle cx="614.1" cy="263.6" r="4.85" fill="#ff0000" stroke="#b00000" stroke-width="0.8"/><circle cx="617.8" cy="259.9" r="4.85" fill="#ff0000" stroke="#b00000" stroke-width="0.8"/><circle cx="621.5" cy="257.1" r="4.85" fill="#ff0000" stroke="#b00000" stroke-width="0.8"/><circle cx="625.2" cy="259.9" r="4.85" fill="#ff0000" stroke="#b00000" stroke-width="0.8"/><circle cx="630.8" cy="248.8" r="4.85" fill="#ff0000" stroke="#b00000" stroke-width="0.8"/><circle cx="634.5" cy="245.1" r="4.85" fill="#ff0000" stroke="#b00000" stroke-width="0.8"/><circle cx="636.4" cy="256.2" r="4.85" fill="#ff0000" stroke="#b00000" stroke-width="0.8"/><circle cx="641.0" cy="270.1" r="4.85" fill="#ff0000" stroke="#b00000" stroke-width="0.8"/><circle cx="644.7" cy="267.4" r="4.85" fill="#ff0000" stroke="#b00000" stroke-width="0.8"/><circle cx="655.8" cy="262.3" r="4.85" fill="#ff0000" stroke="#b00000" stroke-width="0.8"/>
</g>
<g clip-path="url(#c2)">
<line x1="87.2" y1="386.3" x2="87.2" y2="439.1" stroke="#2a95f5" stroke-width="1.2"/><line x1="83.0" y1="386.3" x2="91.4" y2="386.3" stroke="#2a95f5" stroke-width="1.2"/><line x1="83.0" y1="439.1" x2="91.4" y2="439.1" stroke="#2a95f5" stroke-width="1.2"/><line x1="91.9" y1="387.2" x2="91.9" y2="445.0" stroke="#2a95f5" stroke-width="1.2"/><line x1="87.7" y1="387.2" x2="96.1" y2="387.2" stroke="#2a95f5" stroke-width="1.2"/><line x1="87.7" y1="445.0" x2="96.1" y2="445.0" stroke="#2a95f5" stroke-width="1.2"/><line x1="98.7" y1="400.0" x2="98.7" y2="421.8" stroke="#2a95f5" stroke-width="1.2"/><line x1="94.5" y1="400.0" x2="102.9" y2="400.0" stroke="#2a95f5" stroke-width="1.2"/><line x1="94.5" y1="421.8" x2="102.9" y2="421.8" stroke="#2a95f5" stroke-width="1.2"/><line x1="138.2" y1="385.8" x2="138.2" y2="413.7" stroke="#2a95f5" stroke-width="1.2"/><line x1="134.0" y1="385.8" x2="142.4" y2="385.8" stroke="#2a95f5" stroke-width="1.2"/><line x1="134.0" y1="413.7" x2="142.4" y2="413.7" stroke="#2a95f5" stroke-width="1.2"/><line x1="144.2" y1="394.0" x2="144.2" y2="411.0" stroke="#2a95f5" stroke-width="1.2"/><line x1="140.0" y1="394.0" x2="148.4" y2="394.0" stroke="#2a95f5" stroke-width="1.2"/><line x1="140.0" y1="411.0" x2="148.4" y2="411.0" stroke="#2a95f5" stroke-width="1.2"/><line x1="161.7" y1="399.0" x2="161.7" y2="411.7" stroke="#2a95f5" stroke-width="1.2"/><line x1="157.5" y1="399.0" x2="165.9" y2="399.0" stroke="#2a95f5" stroke-width="1.2"/><line x1="157.5" y1="411.7" x2="165.9" y2="411.7" stroke="#2a95f5" stroke-width="1.2"/><line x1="170.4" y1="405.0" x2="170.4" y2="418.0" stroke="#2a95f5" stroke-width="1.2"/><line x1="166.2" y1="405.0" x2="174.6" y2="405.0" stroke="#2a95f5" stroke-width="1.2"/><line x1="166.2" y1="418.0" x2="174.6" y2="418.0" stroke="#2a95f5" stroke-width="1.2"/><line x1="209.0" y1="389.7" x2="209.0" y2="460.0" stroke="#2a95f5" stroke-width="1.2"/><line x1="204.8" y1="389.7" x2="213.2" y2="389.7" stroke="#2a95f5" stroke-width="1.2"/><line x1="204.8" y1="460.0" x2="213.2" y2="460.0" stroke="#2a95f5" stroke-width="1.2"/><line x1="226.6" y1="398.3" x2="226.6" y2="415.1" stroke="#2a95f5" stroke-width="1.2"/><line x1="222.4" y1="398.3" x2="230.8" y2="398.3" stroke="#2a95f5" stroke-width="1.2"/><line x1="222.4" y1="415.1" x2="230.8" y2="415.1" stroke="#2a95f5" stroke-width="1.2"/><line x1="254.8" y1="389.0" x2="254.8" y2="436.0" stroke="#2a95f5" stroke-width="1.2"/><line x1="250.6" y1="389.0" x2="259.0" y2="389.0" stroke="#2a95f5" stroke-width="1.2"/><line x1="250.6" y1="436.0" x2="259.0" y2="436.0" stroke="#2a95f5" stroke-width="1.2"/><line x1="258.3" y1="389.0" x2="258.3" y2="436.0" stroke="#2a95f5" stroke-width="1.2"/><line x1="254.1" y1="389.0" x2="262.5" y2="389.0" stroke="#2a95f5" stroke-width="1.2"/><line x1="254.1" y1="436.0" x2="262.5" y2="436.0" stroke="#2a95f5" stroke-width="1.2"/><line x1="266.6" y1="380.0" x2="266.6" y2="399.7" stroke="#2a95f5" stroke-width="1.2"/><line x1="262.4" y1="380.0" x2="270.8" y2="380.0" stroke="#2a95f5" stroke-width="1.2"/><line x1="262.4" y1="399.7" x2="270.8" y2="399.7" stroke="#2a95f5" stroke-width="1.2"/><line x1="274.0" y1="400.0" x2="274.0" y2="412.0" stroke="#2a95f5" stroke-width="1.2"/><line x1="269.8" y1="400.0" x2="278.2" y2="400.0" stroke="#2a95f5" stroke-width="1.2"/><line x1="269.8" y1="412.0" x2="278.2" y2="412.0" stroke="#2a95f5" stroke-width="1.2"/><line x1="374.1" y1="332.5" x2="374.1" y2="345.0" stroke="#2a95f5" stroke-width="1.2"/><line x1="369.9" y1="332.5" x2="378.3" y2="332.5" stroke="#2a95f5" stroke-width="1.2"/><line x1="369.9" y1="345.0" x2="378.3" y2="345.0" stroke="#2a95f5" stroke-width="1.2"/><line x1="336.5" y1="345.0" x2="336.5" y2="356.5" stroke="#2a95f5" stroke-width="1.2"/><line x1="332.3" y1="345.0" x2="340.7" y2="345.0" stroke="#2a95f5" stroke-width="1.2"/><line x1="332.3" y1="356.5" x2="340.7" y2="356.5" stroke="#2a95f5" stroke-width="1.2"/><line x1="341.6" y1="345.0" x2="341.6" y2="356.5" stroke="#2a95f5" stroke-width="1.2"/><line x1="337.4" y1="345.0" x2="345.8" y2="345.0" stroke="#2a95f5" stroke-width="1.2"/><line x1="337.4" y1="356.5" x2="345.8" y2="356.5" stroke="#2a95f5" stroke-width="1.2"/><line x1="439.5" y1="339.7" x2="439.5" y2="350.0" stroke="#2a95f5" stroke-width="1.2"/><line x1="435.3" y1="339.7" x2="443.7" y2="339.7" stroke="#2a95f5" stroke-width="1.2"/><line x1="435.3" y1="350.0" x2="443.7" y2="350.0" stroke="#2a95f5" stroke-width="1.2"/><line x1="444.6" y1="352.2" x2="444.6" y2="389.5" stroke="#2a95f5" stroke-width="1.2"/><line x1="440.4" y1="352.2" x2="448.8" y2="352.2" stroke="#2a95f5" stroke-width="1.2"/><line x1="440.4" y1="389.5" x2="448.8" y2="389.5" stroke="#2a95f5" stroke-width="1.2"/><line x1="453.0" y1="343.2" x2="453.0" y2="372.0" stroke="#2a95f5" stroke-width="1.2"/><line x1="448.8" y1="343.2" x2="457.2" y2="343.2" stroke="#2a95f5" stroke-width="1.2"/><line x1="448.8" y1="372.0" x2="457.2" y2="372.0" stroke="#2a95f5" stroke-width="1.2"/><line x1="474.8" y1="372.0" x2="474.8" y2="401.5" stroke="#2a95f5" stroke-width="1.2"/><line x1="470.6" y1="372.0" x2="479.0" y2="372.0" stroke="#2a95f5" stroke-width="1.2"/><line x1="470.6" y1="401.5" x2="479.0" y2="401.5" stroke="#2a95f5" stroke-width="1.2"/><line x1="482.1" y1="380.0" x2="482.1" y2="412.0" stroke="#2a95f5" stroke-width="1.2"/><line x1="477.9" y1="380.0" x2="486.3" y2="380.0" stroke="#2a95f5" stroke-width="1.2"/><line x1="477.9" y1="412.0" x2="486.3" y2="412.0" stroke="#2a95f5" stroke-width="1.2"/><line x1="490.0" y1="372.0" x2="490.0" y2="398.0" stroke="#2a95f5" stroke-width="1.2"/><line x1="485.8" y1="372.0" x2="494.2" y2="372.0" stroke="#2a95f5" stroke-width="1.2"/><line x1="485.8" y1="398.0" x2="494.2" y2="398.0" stroke="#2a95f5" stroke-width="1.2"/><line x1="512.0" y1="372.0" x2="512.0" y2="395.0" stroke="#2a95f5" stroke-width="1.2"/><line x1="507.8" y1="372.0" x2="516.2" y2="372.0" stroke="#2a95f5" stroke-width="1.2"/><line x1="507.8" y1="395.0" x2="516.2" y2="395.0" stroke="#2a95f5" stroke-width="1.2"/><line x1="525.0" y1="380.0" x2="525.0" y2="404.0" stroke="#2a95f5" stroke-width="1.2"/><line x1="520.8" y1="380.0" x2="529.2" y2="380.0" stroke="#2a95f5" stroke-width="1.2"/><line x1="520.8" y1="404.0" x2="529.2" y2="404.0" stroke="#2a95f5" stroke-width="1.2"/><line x1="545.0" y1="382.0" x2="545.0" y2="402.0" stroke="#2a95f5" stroke-width="1.2"/><line x1="540.8" y1="382.0" x2="549.2" y2="382.0" stroke="#2a95f5" stroke-width="1.2"/><line x1="540.8" y1="402.0" x2="549.2" y2="402.0" stroke="#2a95f5" stroke-width="1.2"/><line x1="569.7" y1="402.0" x2="569.7" y2="422.0" stroke="#2a95f5" stroke-width="1.2"/><line x1="565.5" y1="402.0" x2="573.9" y2="402.0" stroke="#2a95f5" stroke-width="1.2"/><line x1="565.5" y1="422.0" x2="573.9" y2="422.0" stroke="#2a95f5" stroke-width="1.2"/><line x1="584.0" y1="390.0" x2="584.0" y2="420.0" stroke="#2a95f5" stroke-width="1.2"/><line x1="579.8" y1="390.0" x2="588.2" y2="390.0" stroke="#2a95f5" stroke-width="1.2"/><line x1="579.8" y1="420.0" x2="588.2" y2="420.0" stroke="#2a95f5" stroke-width="1.2"/><line x1="601.0" y1="395.0" x2="601.0" y2="433.0" stroke="#2a95f5" stroke-width="1.2"/><line x1="596.8" y1="395.0" x2="605.2" y2="395.0" stroke="#2a95f5" stroke-width="1.2"/><line x1="596.8" y1="433.0" x2="605.2" y2="433.0" stroke="#2a95f5" stroke-width="1.2"/><line x1="618.0" y1="396.0" x2="618.0" y2="446.0" stroke="#2a95f5" stroke-width="1.2"/><line x1="613.8" y1="396.0" x2="622.2" y2="396.0" stroke="#2a95f5" stroke-width="1.2"/><line x1="613.8" y1="446.0" x2="622.2" y2="446.0" stroke="#2a95f5" stroke-width="1.2"/><line x1="625.0" y1="402.0" x2="625.0" y2="432.0" stroke="#2a95f5" stroke-width="1.2"/><line x1="620.8" y1="402.0" x2="629.2" y2="402.0" stroke="#2a95f5" stroke-width="1.2"/><line x1="620.8" y1="432.0" x2="629.2" y2="432.0" stroke="#2a95f5" stroke-width="1.2"/><line x1="634.0" y1="406.0" x2="634.0" y2="440.0" stroke="#2a95f5" stroke-width="1.2"/><line x1="629.8" y1="406.0" x2="638.2" y2="406.0" stroke="#2a95f5" stroke-width="1.2"/><line x1="629.8" y1="440.0" x2="638.2" y2="440.0" stroke="#2a95f5" stroke-width="1.2"/><line x1="644.0" y1="398.0" x2="644.0" y2="432.0" stroke="#2a95f5" stroke-width="1.2"/><line x1="639.8" y1="398.0" x2="648.2" y2="398.0" stroke="#2a95f5" stroke-width="1.2"/><line x1="639.8" y1="432.0" x2="648.2" y2="432.0" stroke="#2a95f5" stroke-width="1.2"/><line x1="655.5" y1="402.4" x2="655.5" y2="430.3" stroke="#2a95f5" stroke-width="1.2"/><line x1="651.3" y1="402.4" x2="659.7" y2="402.4" stroke="#2a95f5" stroke-width="1.2"/><line x1="651.3" y1="430.3" x2="659.7" y2="430.3" stroke="#2a95f5" stroke-width="1.2"/><line x1="590.0" y1="392.0" x2="590.0" y2="418.0" stroke="#2a95f5" stroke-width="1.2"/><line x1="585.8" y1="392.0" x2="594.2" y2="392.0" stroke="#2a95f5" stroke-width="1.2"/><line x1="585.8" y1="418.0" x2="594.2" y2="418.0" stroke="#2a95f5" stroke-width="1.2"/><line x1="608.0" y1="396.0" x2="608.0" y2="422.0" stroke="#2a95f5" stroke-width="1.2"/><line x1="603.8" y1="396.0" x2="612.2" y2="396.0" stroke="#2a95f5" stroke-width="1.2"/><line x1="603.8" y1="422.0" x2="612.2" y2="422.0" stroke="#2a95f5" stroke-width="1.2"/><line x1="562.0" y1="392.0" x2="562.0" y2="412.0" stroke="#2a95f5" stroke-width="1.2"/><line x1="557.8" y1="392.0" x2="566.2" y2="392.0" stroke="#2a95f5" stroke-width="1.2"/><line x1="557.8" y1="412.0" x2="566.2" y2="412.0" stroke="#2a95f5" stroke-width="1.2"/><line x1="453.0" y1="349.0" x2="453.0" y2="372.5" stroke="#2a95f5" stroke-width="1.2"/><line x1="448.8" y1="349.0" x2="457.2" y2="349.0" stroke="#2a95f5" stroke-width="1.2"/><line x1="448.8" y1="372.5" x2="457.2" y2="372.5" stroke="#2a95f5" stroke-width="1.2"/><line x1="455.6" y1="366.4" x2="455.6" y2="386.7" stroke="#2a95f5" stroke-width="1.2"/><line x1="451.4" y1="366.4" x2="459.8" y2="366.4" stroke="#2a95f5" stroke-width="1.2"/><line x1="451.4" y1="386.7" x2="459.8" y2="386.7" stroke="#2a95f5" stroke-width="1.2"/><line x1="458.7" y1="367.4" x2="458.7" y2="388.1" stroke="#2a95f5" stroke-width="1.2"/><line x1="454.5" y1="367.4" x2="462.9" y2="367.4" stroke="#2a95f5" stroke-width="1.2"/><line x1="454.5" y1="388.1" x2="462.9" y2="388.1" stroke="#2a95f5" stroke-width="1.2"/><line x1="462.7" y1="368.0" x2="462.7" y2="384.1" stroke="#2a95f5" stroke-width="1.2"/><line x1="458.5" y1="368.0" x2="466.9" y2="368.0" stroke="#2a95f5" stroke-width="1.2"/><line x1="458.5" y1="384.1" x2="466.9" y2="384.1" stroke="#2a95f5" stroke-width="1.2"/><line x1="466.4" y1="366.2" x2="466.4" y2="388.6" stroke="#2a95f5" stroke-width="1.2"/><line x1="462.2" y1="366.2" x2="470.6" y2="366.2" stroke="#2a95f5" stroke-width="1.2"/><line x1="462.2" y1="388.6" x2="470.6" y2="388.6" stroke="#2a95f5" stroke-width="1.2"/><line x1="469.0" y1="368.3" x2="469.0" y2="393.9" stroke="#2a95f5" stroke-width="1.2"/><line x1="464.8" y1="368.3" x2="473.2" y2="368.3" stroke="#2a95f5" stroke-width="1.2"/><line x1="464.8" y1="393.9" x2="473.2" y2="393.9" stroke="#2a95f5" stroke-width="1.2"/><line x1="473.1" y1="374.7" x2="473.1" y2="391.6" stroke="#2a95f5" stroke-width="1.2"/><line x1="468.9" y1="374.7" x2="477.3" y2="374.7" stroke="#2a95f5" stroke-width="1.2"/><line x1="468.9" y1="391.6" x2="477.3" y2="391.6" stroke="#2a95f5" stroke-width="1.2"/><line x1="478.1" y1="372.1" x2="478.1" y2="387.7" stroke="#2a95f5" stroke-width="1.2"/><line x1="473.9" y1="372.1" x2="482.3" y2="372.1" stroke="#2a95f5" stroke-width="1.2"/><line x1="473.9" y1="387.7" x2="482.3" y2="387.7" stroke="#2a95f5" stroke-width="1.2"/><line x1="482.1" y1="381.2" x2="482.1" y2="395.5" stroke="#2a95f5" stroke-width="1.2"/><line x1="477.9" y1="381.2" x2="486.3" y2="381.2" stroke="#2a95f5" stroke-width="1.2"/><line x1="477.9" y1="395.5" x2="486.3" y2="395.5" stroke="#2a95f5" stroke-width="1.2"/><line x1="485.2" y1="372.4" x2="485.2" y2="394.8" stroke="#2a95f5" stroke-width="1.2"/><line x1="481.0" y1="372.4" x2="489.4" y2="372.4" stroke="#2a95f5" stroke-width="1.2"/><line x1="481.0" y1="394.8" x2="489.4" y2="394.8" stroke="#2a95f5" stroke-width="1.2"/><line x1="490.2" y1="370.6" x2="490.2" y2="390.7" stroke="#2a95f5" stroke-width="1.2"/><line x1="486.0" y1="370.6" x2="494.4" y2="370.6" stroke="#2a95f5" stroke-width="1.2"/><line x1="486.0" y1="390.7" x2="494.4" y2="390.7" stroke="#2a95f5" stroke-width="1.2"/><line x1="495.2" y1="370.4" x2="495.2" y2="387.7" stroke="#2a95f5" stroke-width="1.2"/><line x1="491.0" y1="370.4" x2="499.4" y2="370.4" stroke="#2a95f5" stroke-width="1.2"/><line x1="491.0" y1="387.7" x2="499.4" y2="387.7" stroke="#2a95f5" stroke-width="1.2"/><line x1="518.4" y1="377.9" x2="518.4" y2="394.3" stroke="#2a95f5" stroke-width="1.2"/><line x1="514.2" y1="377.9" x2="522.6" y2="377.9" stroke="#2a95f5" stroke-width="1.2"/><line x1="514.2" y1="394.3" x2="522.6" y2="394.3" stroke="#2a95f5" stroke-width="1.2"/><line x1="522.4" y1="381.9" x2="522.4" y2="402.1" stroke="#2a95f5" stroke-width="1.2"/><line x1="518.2" y1="381.9" x2="526.6" y2="381.9" stroke="#2a95f5" stroke-width="1.2"/><line x1="518.2" y1="402.1" x2="526.6" y2="402.1" stroke="#2a95f5" stroke-width="1.2"/><line x1="526.4" y1="381.9" x2="526.4" y2="401.8" stroke="#2a95f5" stroke-width="1.2"/><line x1="522.2" y1="381.9" x2="530.6" y2="381.9" stroke="#2a95f5" stroke-width="1.2"/><line x1="522.2" y1="401.8" x2="530.6" y2="401.8" stroke="#2a95f5" stroke-width="1.2"/><line x1="538.5" y1="384.5" x2="538.5" y2="406.5" stroke="#2a95f5" stroke-width="1.2"/><line x1="534.3" y1="384.5" x2="542.7" y2="384.5" stroke="#2a95f5" stroke-width="1.2"/><line x1="534.3" y1="406.5" x2="542.7" y2="406.5" stroke="#2a95f5" stroke-width="1.2"/><line x1="542.5" y1="385.4" x2="542.5" y2="405.9" stroke="#2a95f5" stroke-width="1.2"/><line x1="538.3" y1="385.4" x2="546.7" y2="385.4" stroke="#2a95f5" stroke-width="1.2"/><line x1="538.3" y1="405.9" x2="546.7" y2="405.9" stroke="#2a95f5" stroke-width="1.2"/><line x1="547.6" y1="382.8" x2="547.6" y2="405.3" stroke="#2a95f5" stroke-width="1.2"/><line x1="543.4" y1="382.8" x2="551.8" y2="382.8" stroke="#2a95f5" stroke-width="1.2"/><line x1="543.4" y1="405.3" x2="551.8" y2="405.3" stroke="#2a95f5" stroke-width="1.2"/><line x1="552.6" y1="392.0" x2="552.6" y2="408.3" stroke="#2a95f5" stroke-width="1.2"/><line x1="548.4" y1="392.0" x2="556.8" y2="392.0" stroke="#2a95f5" stroke-width="1.2"/><line x1="548.4" y1="408.3" x2="556.8" y2="408.3" stroke="#2a95f5" stroke-width="1.2"/><line x1="563.7" y1="396.8" x2="563.7" y2="412.5" stroke="#2a95f5" stroke-width="1.2"/><line x1="559.5" y1="396.8" x2="567.9" y2="396.8" stroke="#2a95f5" stroke-width="1.2"/><line x1="559.5" y1="412.5" x2="567.9" y2="412.5" stroke="#2a95f5" stroke-width="1.2"/><line x1="567.6" y1="402.6" x2="567.6" y2="423.0" stroke="#2a95f5" stroke-width="1.2"/><line x1="563.4" y1="402.6" x2="571.8" y2="402.6" stroke="#2a95f5" stroke-width="1.2"/><line x1="563.4" y1="423.0" x2="571.8" y2="423.0" stroke="#2a95f5" stroke-width="1.2"/><line x1="569.6" y1="407.3" x2="569.6" y2="426.5" stroke="#2a95f5" stroke-width="1.2"/><line x1="565.4" y1="407.3" x2="573.8" y2="407.3" stroke="#2a95f5" stroke-width="1.2"/><line x1="565.4" y1="426.5" x2="573.8" y2="426.5" stroke="#2a95f5" stroke-width="1.2"/><line x1="572.4" y1="393.2" x2="572.4" y2="410.3" stroke="#2a95f5" stroke-width="1.2"/><line x1="568.2" y1="393.2" x2="576.6" y2="393.2" stroke="#2a95f5" stroke-width="1.2"/><line x1="568.2" y1="410.3" x2="576.6" y2="410.3" stroke="#2a95f5" stroke-width="1.2"/><line x1="577.2" y1="390.8" x2="577.2" y2="408.1" stroke="#2a95f5" stroke-width="1.2"/><line x1="573.0" y1="390.8" x2="581.4" y2="390.8" stroke="#2a95f5" stroke-width="1.2"/><line x1="573.0" y1="408.1" x2="581.4" y2="408.1" stroke="#2a95f5" stroke-width="1.2"/><line x1="581.0" y1="394.0" x2="581.0" y2="416.8" stroke="#2a95f5" stroke-width="1.2"/><line x1="576.8" y1="394.0" x2="585.2" y2="394.0" stroke="#2a95f5" stroke-width="1.2"/><line x1="576.8" y1="416.8" x2="585.2" y2="416.8" stroke="#2a95f5" stroke-width="1.2"/><line x1="586.8" y1="395.8" x2="586.8" y2="414.2" stroke="#2a95f5" stroke-width="1.2"/><line x1="582.6" y1="395.8" x2="591.0" y2="395.8" stroke="#2a95f5" stroke-width="1.2"/><line x1="582.6" y1="414.2" x2="591.0" y2="414.2" stroke="#2a95f5" stroke-width="1.2"/><line x1="590.6" y1="400.3" x2="590.6" y2="422.5" stroke="#2a95f5" stroke-width="1.2"/><line x1="586.4" y1="400.3" x2="594.8" y2="400.3" stroke="#2a95f5" stroke-width="1.2"/><line x1="586.4" y1="422.5" x2="594.8" y2="422.5" stroke="#2a95f5" stroke-width="1.2"/><line x1="595.4" y1="396.9" x2="595.4" y2="415.8" stroke="#2a95f5" stroke-width="1.2"/><line x1="591.2" y1="396.9" x2="599.6" y2="396.9" stroke="#2a95f5" stroke-width="1.2"/><line x1="591.2" y1="415.8" x2="599.6" y2="415.8" stroke="#2a95f5" stroke-width="1.2"/><line x1="600.1" y1="399.7" x2="600.1" y2="418.8" stroke="#2a95f5" stroke-width="1.2"/><line x1="595.9" y1="399.7" x2="604.3" y2="399.7" stroke="#2a95f5" stroke-width="1.2"/><line x1="595.9" y1="418.8" x2="604.3" y2="418.8" stroke="#2a95f5" stroke-width="1.2"/><line x1="604.9" y1="400.6" x2="604.9" y2="414.7" stroke="#2a95f5" stroke-width="1.2"/><line x1="600.7" y1="400.6" x2="609.1" y2="400.6" stroke="#2a95f5" stroke-width="1.2"/><line x1="600.7" y1="414.7" x2="609.1" y2="414.7" stroke="#2a95f5" stroke-width="1.2"/><line x1="608.7" y1="400.8" x2="608.7" y2="420.2" stroke="#2a95f5" stroke-width="1.2"/><line x1="604.5" y1="400.8" x2="612.9" y2="400.8" stroke="#2a95f5" stroke-width="1.2"/><line x1="604.5" y1="420.2" x2="612.9" y2="420.2" stroke="#2a95f5" stroke-width="1.2"/><line x1="613.5" y1="401.9" x2="613.5" y2="425.3" stroke="#2a95f5" stroke-width="1.2"/><line x1="609.3" y1="401.9" x2="617.7" y2="401.9" stroke="#2a95f5" stroke-width="1.2"/><line x1="609.3" y1="425.3" x2="617.7" y2="425.3" stroke="#2a95f5" stroke-width="1.2"/><line x1="617.3" y1="404.3" x2="617.3" y2="427.4" stroke="#2a95f5" stroke-width="1.2"/><line x1="613.1" y1="404.3" x2="621.5" y2="404.3" stroke="#2a95f5" stroke-width="1.2"/><line x1="613.1" y1="427.4" x2="621.5" y2="427.4" stroke="#2a95f5" stroke-width="1.2"/><line x1="621.2" y1="407.9" x2="621.2" y2="429.7" stroke="#2a95f5" stroke-width="1.2"/><line x1="617.0" y1="407.9" x2="625.4" y2="407.9" stroke="#2a95f5" stroke-width="1.2"/><line x1="617.0" y1="429.7" x2="625.4" y2="429.7" stroke="#2a95f5" stroke-width="1.2"/><line x1="630.7" y1="417.3" x2="630.7" y2="437.8" stroke="#2a95f5" stroke-width="1.2"/><line x1="626.5" y1="417.3" x2="634.9" y2="417.3" stroke="#2a95f5" stroke-width="1.2"/><line x1="626.5" y1="437.8" x2="634.9" y2="437.8" stroke="#2a95f5" stroke-width="1.2"/><line x1="636.4" y1="409.5" x2="636.4" y2="434.2" stroke="#2a95f5" stroke-width="1.2"/><line x1="632.2" y1="409.5" x2="640.6" y2="409.5" stroke="#2a95f5" stroke-width="1.2"/><line x1="632.2" y1="434.2" x2="640.6" y2="434.2" stroke="#2a95f5" stroke-width="1.2"/><line x1="640.3" y1="398.2" x2="640.3" y2="413.8" stroke="#2a95f5" stroke-width="1.2"/><line x1="636.1" y1="398.2" x2="644.5" y2="398.2" stroke="#2a95f5" stroke-width="1.2"/><line x1="636.1" y1="413.8" x2="644.5" y2="413.8" stroke="#2a95f5" stroke-width="1.2"/><line x1="644.1" y1="400.8" x2="644.1" y2="419.8" stroke="#2a95f5" stroke-width="1.2"/><line x1="639.9" y1="400.8" x2="648.3" y2="400.8" stroke="#2a95f5" stroke-width="1.2"/><line x1="639.9" y1="419.8" x2="648.3" y2="419.8" stroke="#2a95f5" stroke-width="1.2"/><line x1="655.5" y1="407.5" x2="655.5" y2="428.9" stroke="#2a95f5" stroke-width="1.2"/><line x1="651.3" y1="407.5" x2="659.7" y2="407.5" stroke="#2a95f5" stroke-width="1.2"/><line x1="651.3" y1="428.9" x2="659.7" y2="428.9" stroke="#2a95f5" stroke-width="1.2"/>
<line x1="70.4" y1="402.2" x2="70.4" y2="413.0" stroke="#1f8ff0" stroke-width="2"/><path d="M65.8 412.0 L75.0 412.0 L70.4 419.3Z" fill="#1f8ff0"/><line x1="235.8" y1="405.2" x2="235.8" y2="417.3" stroke="#1f8ff0" stroke-width="2"/><path d="M231.2 416.3 L240.4 416.3 L235.8 423.6Z" fill="#1f8ff0"/>
<circle cx="70.4" cy="402.2" r="4.85" fill="#1f8ff0" stroke="#1a5c99" stroke-width="0.8"/><circle cx="87.2" cy="402.2" r="4.85" fill="#1f8ff0" stroke="#1a5c99" stroke-width="0.8"/><circle cx="91.9" cy="404.3" r="4.85" fill="#1f8ff0" stroke="#1a5c99" stroke-width="0.8"/><circle cx="98.7" cy="408.6" r="4.85" fill="#1f8ff0" stroke="#1a5c99" stroke-width="0.8"/><circle cx="102.2" cy="402.6" r="4.85" fill="#1f8ff0" stroke="#1a5c99" stroke-width="0.8"/><circle cx="105.6" cy="407.7" r="4.85" fill="#1f8ff0" stroke="#1a5c99" stroke-width="0.8"/><circle cx="138.2" cy="396.1" r="4.85" fill="#1f8ff0" stroke="#1a5c99" stroke-width="0.8"/><circle cx="144.2" cy="400.5" r="4.85" fill="#1f8ff0" stroke="#1a5c99" stroke-width="0.8"/><circle cx="149.3" cy="401.7" r="4.85" fill="#1f8ff0" stroke="#1a5c99" stroke-width="0.8"/><circle cx="161.7" cy="405.2" r="4.85" fill="#1f8ff0" stroke="#1a5c99" stroke-width="0.8"/><circle cx="170.6" cy="411.5" r="4.85" fill="#1f8ff0" stroke="#1a5c99" stroke-width="0.8"/><circle cx="176.2" cy="408.9" r="4.85" fill="#1f8ff0" stroke="#1a5c99" stroke-width="0.8"/><circle cx="180.8" cy="405.9" r="4.85" fill="#1f8ff0" stroke="#1a5c99" stroke-width="0.8"/><circle cx="184.3" cy="405.2" r="4.85" fill="#1f8ff0" stroke="#1a5c99" stroke-width="0.8"/><circle cx="195.8" cy="404.3" r="4.85" fill="#1f8ff0" stroke="#1a5c99" stroke-width="0.8"/><circle cx="209.0" cy="407.5" r="4.85" fill="#1f8ff0" stroke="#1a5c99" stroke-width="0.8"/><circle cx="226.6" cy="405.9" r="4.85" fill="#1f8ff0" stroke="#1a5c99" stroke-width="0.8"/><circle cx="235.8" cy="405.2" r="4.85" fill="#1f8ff0" stroke="#1a5c99" stroke-width="0.8"/><circle cx="254.8" cy="404.3" r="4.85" fill="#1f8ff0" stroke="#1a5c99" stroke-width="0.8"/><circle cx="258.3" cy="403.6" r="4.85" fill="#1f8ff0" stroke="#1a5c99" stroke-width="0.8"/><circle cx="261.3" cy="381.2" r="4.85" fill="#1f8ff0" stroke="#1a5c99" stroke-width="0.8"/><circle cx="266.6" cy="387.4" r="4.85" fill="#1f8ff0" stroke="#1a5c99" stroke-width="0.8"/><circle cx="274.0" cy="406.8" r="4.85" fill="#1f8ff0" stroke="#1a5c99" stroke-width="0.8"/><circle cx="276.1" cy="389.3" r="4.85" fill="#1f8ff0" stroke="#1a5c99" stroke-width="0.8"/><circle cx="278.2" cy="379.4" r="4.85" fill="#1f8ff0" stroke="#1a5c99" stroke-width="0.8"/><circle cx="281.2" cy="378.4" r="4.85" fill="#1f8ff0" stroke="#1a5c99" stroke-width="0.8"/><circle cx="284.2" cy="376.4" r="4.85" fill="#1f8ff0" stroke="#1a5c99" stroke-width="0.8"/><circle cx="286.8" cy="373.4" r="4.85" fill="#1f8ff0" stroke="#1a5c99" stroke-width="0.8"/><circle cx="289.2" cy="369.3" r="4.85" fill="#1f8ff0" stroke="#1a5c99" stroke-width="0.8"/><circle cx="300.3" cy="358.3" r="4.85" fill="#1f8ff0" stroke="#1a5c99" stroke-width="0.8"/><circle cx="303.3" cy="355.2" r="4.85" fill="#1f8ff0" stroke="#1a5c99" stroke-width="0.8"/><circle cx="307.3" cy="352.2" r="4.85" fill="#1f8ff0" stroke="#1a5c99" stroke-width="0.8"/><circle cx="311.4" cy="350.2" r="4.85" fill="#1f8ff0" stroke="#1a5c99" stroke-width="0.8"/><circle cx="315.4" cy="348.2" r="4.85" fill="#1f8ff0" stroke="#1a5c99" stroke-width="0.8"/><circle cx="322.4" cy="347.8" r="4.85" fill="#1f8ff0" stroke="#1a5c99" stroke-width="0.8"/><circle cx="333.5" cy="349.8" r="4.85" fill="#1f8ff0" stroke="#1a5c99" stroke-width="0.8"/><circle cx="336.5" cy="351.8" r="4.85" fill="#1f8ff0" stroke="#1a5c99" stroke-width="0.8"/><circle cx="341.6" cy="351.2" r="4.85" fill="#1f8ff0" stroke="#1a5c99" stroke-width="0.8"/><circle cx="347.6" cy="349.8" r="4.85" fill="#1f8ff0" stroke="#1a5c99" stroke-width="0.8"/><circle cx="356.7" cy="348.6" r="4.85" fill="#1f8ff0" stroke="#1a5c99" stroke-width="0.8"/><circle cx="363.0" cy="348.2" r="4.85" fill="#1f8ff0" stroke="#1a5c99" stroke-width="0.8"/><circle cx="369.0" cy="347.2" r="4.85" fill="#1f8ff0" stroke="#1a5c99" stroke-width="0.8"/><circle cx="374.1" cy="341.1" r="4.85" fill="#1f8ff0" stroke="#1a5c99" stroke-width="0.8"/><circle cx="379.1" cy="340.1" r="4.85" fill="#1f8ff0" stroke="#1a5c99" stroke-width="0.8"/><circle cx="385.2" cy="339.7" r="4.85" fill="#1f8ff0" stroke="#1a5c99" stroke-width="0.8"/><circle cx="391.2" cy="339.1" r="4.85" fill="#1f8ff0" stroke="#1a5c99" stroke-width="0.8"/><circle cx="395.2" cy="343.2" r="4.85" fill="#1f8ff0" stroke="#1a5c99" stroke-width="0.8"/><circle cx="399.3" cy="345.2" r="4.85" fill="#1f8ff0" stroke="#1a5c99" stroke-width="0.8"/><circle cx="403.3" cy="344.2" r="4.85" fill="#1f8ff0" stroke="#1a5c99" stroke-width="0.8"/><circle cx="407.3" cy="340.1" r="4.85" fill="#1f8ff0" stroke="#1a5c99" stroke-width="0.8"/><circle cx="416.4" cy="348.2" r="4.85" fill="#1f8ff0" stroke="#1a5c99" stroke-width="0.8"/><circle cx="421.4" cy="345.2" r="4.85" fill="#1f8ff0" stroke="#1a5c99" stroke-width="0.8"/><circle cx="426.4" cy="347.2" r="4.85" fill="#1f8ff0" stroke="#1a5c99" stroke-width="0.8"/><circle cx="431.5" cy="349.2" r="4.85" fill="#1f8ff0" stroke="#1a5c99" stroke-width="0.8"/><circle cx="435.5" cy="347.2" r="4.85" fill="#1f8ff0" stroke="#1a5c99" stroke-width="0.8"/><circle cx="439.5" cy="345.2" r="4.85" fill="#1f8ff0" stroke="#1a5c99" stroke-width="0.8"/><circle cx="444.6" cy="366.3" r="4.85" fill="#1f8ff0" stroke="#1a5c99" stroke-width="0.8"/><circle cx="453.0" cy="356.2" r="4.85" fill="#1f8ff0" stroke="#1a5c99" stroke-width="0.8"/><circle cx="455.6" cy="373.4" r="4.85" fill="#1f8ff0" stroke="#1a5c99" stroke-width="0.8"/><circle cx="458.7" cy="374.4" r="4.85" fill="#1f8ff0" stroke="#1a5c99" stroke-width="0.8"/><circle cx="462.7" cy="373.4" r="4.85" fill="#1f8ff0" stroke="#1a5c99" stroke-width="0.8"/><circle cx="466.4" cy="374.4" r="4.85" fill="#1f8ff0" stroke="#1a5c99" stroke-width="0.8"/><circle cx="469.0" cy="377.2" r="4.85" fill="#1f8ff0" stroke="#1a5c99" stroke-width="0.8"/><circle cx="473.1" cy="382.2" r="4.85" fill="#1f8ff0" stroke="#1a5c99" stroke-width="0.8"/><circle cx="478.1" cy="379.2" r="4.85" fill="#1f8ff0" stroke="#1a5c99" stroke-width="0.8"/><circle cx="482.1" cy="387.2" r="4.85" fill="#1f8ff0" stroke="#1a5c99" stroke-width="0.8"/><circle cx="485.2" cy="379.2" r="4.85" fill="#1f8ff0" stroke="#1a5c99" stroke-width="0.8"/><circle cx="490.2" cy="378.2" r="4.85" fill="#1f8ff0" stroke="#1a5c99" stroke-width="0.8"/><circle cx="495.2" cy="377.2" r="4.85" fill="#1f8ff0" stroke="#1a5c99" stroke-width="0.8"/><circle cx="500.3" cy="378.0" r="4.85" fill="#1f8ff0" stroke="#1a5c99" stroke-width="0.8"/><circle cx="504.3" cy="375.2" r="4.85" fill="#1f8ff0" stroke="#1a5c99" stroke-width="0.8"/><circle cx="512.3" cy="378.2" r="4.85" fill="#1f8ff0" stroke="#1a5c99" stroke-width="0.8"/><circle cx="518.4" cy="384.2" r="4.85" fill="#1f8ff0" stroke="#1a5c99" stroke-width="0.8"/><circle cx="522.4" cy="387.2" r="4.85" fill="#1f8ff0" stroke="#1a5c99" stroke-width="0.8"/><circle cx="526.4" cy="390.3" r="4.85" fill="#1f8ff0" stroke="#1a5c99" stroke-width="0.8"/><circle cx="531.5" cy="385.2" r="4.85" fill="#1f8ff0" stroke="#1a5c99" stroke-width="0.8"/><circle cx="535.5" cy="383.2" r="4.85" fill="#1f8ff0" stroke="#1a5c99" stroke-width="0.8"/><circle cx="538.5" cy="390.3" r="4.85" fill="#1f8ff0" stroke="#1a5c99" stroke-width="0.8"/><circle cx="542.5" cy="394.3" r="4.85" fill="#1f8ff0" stroke="#1a5c99" stroke-width="0.8"/><circle cx="547.6" cy="390.3" r="4.85" fill="#1f8ff0" stroke="#1a5c99" stroke-width="0.8"/><circle cx="552.6" cy="397.3" r="4.85" fill="#1f8ff0" stroke="#1a5c99" stroke-width="0.8"/><circle cx="558.7" cy="399.3" r="4.85" fill="#1f8ff0" stroke="#1a5c99" stroke-width="0.8"/><circle cx="563.7" cy="402.3" r="4.85" fill="#1f8ff0" stroke="#1a5c99" stroke-width="0.8"/><circle cx="567.6" cy="407.8" r="4.85" fill="#1f8ff0" stroke="#1a5c99" stroke-width="0.8"/><circle cx="569.6" cy="414.5" r="4.85" fill="#1f8ff0" stroke="#1a5c99" stroke-width="0.8"/><circle cx="572.4" cy="401.1" r="4.85" fill="#1f8ff0" stroke="#1a5c99" stroke-width="0.8"/><circle cx="577.2" cy="396.3" r="4.85" fill="#1f8ff0" stroke="#1a5c99" stroke-width="0.8"/><circle cx="581.0" cy="400.1" r="4.85" fill="#1f8ff0" stroke="#1a5c99" stroke-width="0.8"/><circle cx="583.9" cy="403.0" r="4.85" fill="#1f8ff0" stroke="#1a5c99" stroke-width="0.8"/><circle cx="586.8" cy="404.3" r="4.85" fill="#1f8ff0" stroke="#1a5c99" stroke-width="0.8"/><circle cx="590.6" cy="408.7" r="4.85" fill="#1f8ff0" stroke="#1a5c99" stroke-width="0.8"/><circle cx="595.4" cy="405.9" r="4.85" fill="#1f8ff0" stroke="#1a5c99" stroke-width="0.8"/><circle cx="600.1" cy="407.8" r="4.85" fill="#1f8ff0" stroke="#1a5c99" stroke-width="0.8"/><circle cx="604.9" cy="405.9" r="4.85" fill="#1f8ff0" stroke="#1a5c99" stroke-width="0.8"/><circle cx="608.7" cy="406.8" r="4.85" fill="#1f8ff0" stroke="#1a5c99" stroke-width="0.8"/><circle cx="613.5" cy="408.7" r="4.85" fill="#1f8ff0" stroke="#1a5c99" stroke-width="0.8"/><circle cx="617.3" cy="411.6" r="4.85" fill="#1f8ff0" stroke="#1a5c99" stroke-width="0.8"/><circle cx="621.2" cy="413.5" r="4.85" fill="#1f8ff0" stroke="#1a5c99" stroke-width="0.8"/><circle cx="625.0" cy="414.5" r="4.85" fill="#1f8ff0" stroke="#1a5c99" stroke-width="0.8"/><circle cx="630.7" cy="423.1" r="4.85" fill="#1f8ff0" stroke="#1a5c99" stroke-width="0.8"/><circle cx="634.1" cy="425.9" r="4.85" fill="#1f8ff0" stroke="#1a5c99" stroke-width="0.8"/><circle cx="636.4" cy="418.3" r="4.85" fill="#1f8ff0" stroke="#1a5c99" stroke-width="0.8"/><circle cx="640.3" cy="404.9" r="4.85" fill="#1f8ff0" stroke="#1a5c99" stroke-width="0.8"/><circle cx="644.1" cy="409.7" r="4.85" fill="#1f8ff0" stroke="#1a5c99" stroke-width="0.8"/><circle cx="655.5" cy="413.5" r="4.85" fill="#1f8ff0" stroke="#1a5c99" stroke-width="0.8"/>
</g>
<g stroke="#d6d6d6" stroke-width="1.9" fill="none">
<path d="M680.5 13.1 L50.5 13.1 L50.5 451.3 L680.5 451.3"/>
<line x1="680.5" y1="13.1" x2="680.5" y2="451.3" stroke="#e6e6e6"/>
<line x1="50.5" y1="159.2" x2="680.5" y2="159.2"/>
<line x1="50.5" y1="305.0" x2="680.5" y2="305.0"/>
</g>
<line x1="57.2" y1="13.1" x2="57.2" y2="19.1" stroke="#3c3c3c" stroke-width="1.4"/><line x1="57.2" y1="153.2" x2="57.2" y2="159.2" stroke="#3c3c3c" stroke-width="1.4"/><line x1="57.2" y1="159.2" x2="57.2" y2="165.2" stroke="#3c3c3c" stroke-width="1.4"/><line x1="57.2" y1="299.0" x2="57.2" y2="305.0" stroke="#3c3c3c" stroke-width="1.4"/><line x1="57.2" y1="305.0" x2="57.2" y2="311.0" stroke="#3c3c3c" stroke-width="1.4"/><line x1="57.2" y1="445.3" x2="57.2" y2="451.3" stroke="#3c3c3c" stroke-width="1.4"/><line x1="90.8" y1="13.1" x2="90.8" y2="17.7" stroke="#6a6a6a" stroke-width="1.4"/><line x1="90.8" y1="154.6" x2="90.8" y2="159.2" stroke="#6a6a6a" stroke-width="1.4"/><line x1="90.8" y1="159.2" x2="90.8" y2="163.8" stroke="#6a6a6a" stroke-width="1.4"/><line x1="90.8" y1="300.4" x2="90.8" y2="305.0" stroke="#6a6a6a" stroke-width="1.4"/><line x1="90.8" y1="305.0" x2="90.8" y2="309.6" stroke="#6a6a6a" stroke-width="1.4"/><line x1="90.8" y1="446.7" x2="90.8" y2="451.3" stroke="#6a6a6a" stroke-width="1.4"/><line x1="124.5" y1="13.1" x2="124.5" y2="19.1" stroke="#3c3c3c" stroke-width="1.4"/><line x1="124.5" y1="153.2" x2="124.5" y2="159.2" stroke="#3c3c3c" stroke-width="1.4"/><line x1="124.5" y1="159.2" x2="124.5" y2="165.2" stroke="#3c3c3c" stroke-width="1.4"/><line x1="124.5" y1="299.0" x2="124.5" y2="305.0" stroke="#3c3c3c" stroke-width="1.4"/><line x1="124.5" y1="305.0" x2="124.5" y2="311.0" stroke="#3c3c3c" stroke-width="1.4"/><line x1="124.5" y1="445.3" x2="124.5" y2="451.3" stroke="#3c3c3c" stroke-width="1.4"/><line x1="158.1" y1="13.1" x2="158.1" y2="17.7" stroke="#6a6a6a" stroke-width="1.4"/><line x1="158.1" y1="154.6" x2="158.1" y2="159.2" stroke="#6a6a6a" stroke-width="1.4"/><line x1="158.1" y1="159.2" x2="158.1" y2="163.8" stroke="#6a6a6a" stroke-width="1.4"/><line x1="158.1" y1="300.4" x2="158.1" y2="305.0" stroke="#6a6a6a" stroke-width="1.4"/><line x1="158.1" y1="305.0" x2="158.1" y2="309.6" stroke="#6a6a6a" stroke-width="1.4"/><line x1="158.1" y1="446.7" x2="158.1" y2="451.3" stroke="#6a6a6a" stroke-width="1.4"/><line x1="191.8" y1="13.1" x2="191.8" y2="19.1" stroke="#3c3c3c" stroke-width="1.4"/><line x1="191.8" y1="153.2" x2="191.8" y2="159.2" stroke="#3c3c3c" stroke-width="1.4"/><line x1="191.8" y1="159.2" x2="191.8" y2="165.2" stroke="#3c3c3c" stroke-width="1.4"/><line x1="191.8" y1="299.0" x2="191.8" y2="305.0" stroke="#3c3c3c" stroke-width="1.4"/><line x1="191.8" y1="305.0" x2="191.8" y2="311.0" stroke="#3c3c3c" stroke-width="1.4"/><line x1="191.8" y1="445.3" x2="191.8" y2="451.3" stroke="#3c3c3c" stroke-width="1.4"/><line x1="225.4" y1="13.1" x2="225.4" y2="17.7" stroke="#6a6a6a" stroke-width="1.4"/><line x1="225.4" y1="154.6" x2="225.4" y2="159.2" stroke="#6a6a6a" stroke-width="1.4"/><line x1="225.4" y1="159.2" x2="225.4" y2="163.8" stroke="#6a6a6a" stroke-width="1.4"/><line x1="225.4" y1="300.4" x2="225.4" y2="305.0" stroke="#6a6a6a" stroke-width="1.4"/><line x1="225.4" y1="305.0" x2="225.4" y2="309.6" stroke="#6a6a6a" stroke-width="1.4"/><line x1="225.4" y1="446.7" x2="225.4" y2="451.3" stroke="#6a6a6a" stroke-width="1.4"/><line x1="259.1" y1="13.1" x2="259.1" y2="19.1" stroke="#3c3c3c" stroke-width="1.4"/><line x1="259.1" y1="153.2" x2="259.1" y2="159.2" stroke="#3c3c3c" stroke-width="1.4"/><line x1="259.1" y1="159.2" x2="259.1" y2="165.2" stroke="#3c3c3c" stroke-width="1.4"/><line x1="259.1" y1="299.0" x2="259.1" y2="305.0" stroke="#3c3c3c" stroke-width="1.4"/><line x1="259.1" y1="305.0" x2="259.1" y2="311.0" stroke="#3c3c3c" stroke-width="1.4"/><line x1="259.1" y1="445.3" x2="259.1" y2="451.3" stroke="#3c3c3c" stroke-width="1.4"/><line x1="292.8" y1="13.1" x2="292.8" y2="17.7" stroke="#6a6a6a" stroke-width="1.4"/><line x1="292.8" y1="154.6" x2="292.8" y2="159.2" stroke="#6a6a6a" stroke-width="1.4"/><line x1="292.8" y1="159.2" x2="292.8" y2="163.8" stroke="#6a6a6a" stroke-width="1.4"/><line x1="292.8" y1="300.4" x2="292.8" y2="305.0" stroke="#6a6a6a" stroke-width="1.4"/><line x1="292.8" y1="305.0" x2="292.8" y2="309.6" stroke="#6a6a6a" stroke-width="1.4"/><line x1="292.8" y1="446.7" x2="292.8" y2="451.3" stroke="#6a6a6a" stroke-width="1.4"/><line x1="326.4" y1="13.1" x2="326.4" y2="19.1" stroke="#3c3c3c" stroke-width="1.4"/><line x1="326.4" y1="153.2" x2="326.4" y2="159.2" stroke="#3c3c3c" stroke-width="1.4"/><line x1="326.4" y1="159.2" x2="326.4" y2="165.2" stroke="#3c3c3c" stroke-width="1.4"/><line x1="326.4" y1="299.0" x2="326.4" y2="305.0" stroke="#3c3c3c" stroke-width="1.4"/><line x1="326.4" y1="305.0" x2="326.4" y2="311.0" stroke="#3c3c3c" stroke-width="1.4"/><line x1="326.4" y1="445.3" x2="326.4" y2="451.3" stroke="#3c3c3c" stroke-width="1.4"/><line x1="360.1" y1="13.1" x2="360.1" y2="17.7" stroke="#6a6a6a" stroke-width="1.4"/><line x1="360.1" y1="154.6" x2="360.1" y2="159.2" stroke="#6a6a6a" stroke-width="1.4"/><line x1="360.1" y1="159.2" x2="360.1" y2="163.8" stroke="#6a6a6a" stroke-width="1.4"/><line x1="360.1" y1="300.4" x2="360.1" y2="305.0" stroke="#6a6a6a" stroke-width="1.4"/><line x1="360.1" y1="305.0" x2="360.1" y2="309.6" stroke="#6a6a6a" stroke-width="1.4"/><line x1="360.1" y1="446.7" x2="360.1" y2="451.3" stroke="#6a6a6a" stroke-width="1.4"/><line x1="393.7" y1="13.1" x2="393.7" y2="19.1" stroke="#3c3c3c" stroke-width="1.4"/><line x1="393.7" y1="153.2" x2="393.7" y2="159.2" stroke="#3c3c3c" stroke-width="1.4"/><line x1="393.7" y1="159.2" x2="393.7" y2="165.2" stroke="#3c3c3c" stroke-width="1.4"/><line x1="393.7" y1="299.0" x2="393.7" y2="305.0" stroke="#3c3c3c" stroke-width="1.4"/><line x1="393.7" y1="305.0" x2="393.7" y2="311.0" stroke="#3c3c3c" stroke-width="1.4"/><line x1="393.7" y1="445.3" x2="393.7" y2="451.3" stroke="#3c3c3c" stroke-width="1.4"/><line x1="427.4" y1="13.1" x2="427.4" y2="17.7" stroke="#6a6a6a" stroke-width="1.4"/><line x1="427.4" y1="154.6" x2="427.4" y2="159.2" stroke="#6a6a6a" stroke-width="1.4"/><line x1="427.4" y1="159.2" x2="427.4" y2="163.8" stroke="#6a6a6a" stroke-width="1.4"/><line x1="427.4" y1="300.4" x2="427.4" y2="305.0" stroke="#6a6a6a" stroke-width="1.4"/><line x1="427.4" y1="305.0" x2="427.4" y2="309.6" stroke="#6a6a6a" stroke-width="1.4"/><line x1="427.4" y1="446.7" x2="427.4" y2="451.3" stroke="#6a6a6a" stroke-width="1.4"/><line x1="461.0" y1="13.1" x2="461.0" y2="19.1" stroke="#3c3c3c" stroke-width="1.4"/><line x1="461.0" y1="153.2" x2="461.0" y2="159.2" stroke="#3c3c3c" stroke-width="1.4"/><line x1="461.0" y1="159.2" x2="461.0" y2="165.2" stroke="#3c3c3c" stroke-width="1.4"/><line x1="461.0" y1="299.0" x2="461.0" y2="305.0" stroke="#3c3c3c" stroke-width="1.4"/><line x1="461.0" y1="305.0" x2="461.0" y2="311.0" stroke="#3c3c3c" stroke-width="1.4"/><line x1="461.0" y1="445.3" x2="461.0" y2="451.3" stroke="#3c3c3c" stroke-width="1.4"/><line x1="494.7" y1="13.1" x2="494.7" y2="17.7" stroke="#6a6a6a" stroke-width="1.4"/><line x1="494.7" y1="154.6" x2="494.7" y2="159.2" stroke="#6a6a6a" stroke-width="1.4"/><line x1="494.7" y1="159.2" x2="494.7" y2="163.8" stroke="#6a6a6a" stroke-width="1.4"/><line x1="494.7" y1="300.4" x2="494.7" y2="305.0" stroke="#6a6a6a" stroke-width="1.4"/><line x1="494.7" y1="305.0" x2="494.7" y2="309.6" stroke="#6a6a6a" stroke-width="1.4"/><line x1="494.7" y1="446.7" x2="494.7" y2="451.3" stroke="#6a6a6a" stroke-width="1.4"/><line x1="528.3" y1="13.1" x2="528.3" y2="19.1" stroke="#3c3c3c" stroke-width="1.4"/><line x1="528.3" y1="153.2" x2="528.3" y2="159.2" stroke="#3c3c3c" stroke-width="1.4"/><line x1="528.3" y1="159.2" x2="528.3" y2="165.2" stroke="#3c3c3c" stroke-width="1.4"/><line x1="528.3" y1="299.0" x2="528.3" y2="305.0" stroke="#3c3c3c" stroke-width="1.4"/><line x1="528.3" y1="305.0" x2="528.3" y2="311.0" stroke="#3c3c3c" stroke-width="1.4"/><line x1="528.3" y1="445.3" x2="528.3" y2="451.3" stroke="#3c3c3c" stroke-width="1.4"/><line x1="562.0" y1="13.1" x2="562.0" y2="17.7" stroke="#6a6a6a" stroke-width="1.4"/><line x1="562.0" y1="154.6" x2="562.0" y2="159.2" stroke="#6a6a6a" stroke-width="1.4"/><line x1="562.0" y1="159.2" x2="562.0" y2="163.8" stroke="#6a6a6a" stroke-width="1.4"/><line x1="562.0" y1="300.4" x2="562.0" y2="305.0" stroke="#6a6a6a" stroke-width="1.4"/><line x1="562.0" y1="305.0" x2="562.0" y2="309.6" stroke="#6a6a6a" stroke-width="1.4"/><line x1="562.0" y1="446.7" x2="562.0" y2="451.3" stroke="#6a6a6a" stroke-width="1.4"/><line x1="595.7" y1="13.1" x2="595.7" y2="19.1" stroke="#3c3c3c" stroke-width="1.4"/><line x1="595.7" y1="153.2" x2="595.7" y2="159.2" stroke="#3c3c3c" stroke-width="1.4"/><line x1="595.7" y1="159.2" x2="595.7" y2="165.2" stroke="#3c3c3c" stroke-width="1.4"/><line x1="595.7" y1="299.0" x2="595.7" y2="305.0" stroke="#3c3c3c" stroke-width="1.4"/><line x1="595.7" y1="305.0" x2="595.7" y2="311.0" stroke="#3c3c3c" stroke-width="1.4"/><line x1="595.7" y1="445.3" x2="595.7" y2="451.3" stroke="#3c3c3c" stroke-width="1.4"/><line x1="629.3" y1="13.1" x2="629.3" y2="17.7" stroke="#6a6a6a" stroke-width="1.4"/><line x1="629.3" y1="154.6" x2="629.3" y2="159.2" stroke="#6a6a6a" stroke-width="1.4"/><line x1="629.3" y1="159.2" x2="629.3" y2="163.8" stroke="#6a6a6a" stroke-width="1.4"/><line x1="629.3" y1="300.4" x2="629.3" y2="305.0" stroke="#6a6a6a" stroke-width="1.4"/><line x1="629.3" y1="305.0" x2="629.3" y2="309.6" stroke="#6a6a6a" stroke-width="1.4"/><line x1="629.3" y1="446.7" x2="629.3" y2="451.3" stroke="#6a6a6a" stroke-width="1.4"/><line x1="663.0" y1="13.1" x2="663.0" y2="19.1" stroke="#3c3c3c" stroke-width="1.4"/><line x1="663.0" y1="153.2" x2="663.0" y2="159.2" stroke="#3c3c3c" stroke-width="1.4"/><line x1="663.0" y1="159.2" x2="663.0" y2="165.2" stroke="#3c3c3c" stroke-width="1.4"/><line x1="663.0" y1="299.0" x2="663.0" y2="305.0" stroke="#3c3c3c" stroke-width="1.4"/><line x1="663.0" y1="305.0" x2="663.0" y2="311.0" stroke="#3c3c3c" stroke-width="1.4"/><line x1="663.0" y1="445.3" x2="663.0" y2="451.3" stroke="#3c3c3c" stroke-width="1.4"/>
<line x1="50.5" y1="159.3" x2="55.1" y2="159.3" stroke="#6a6a6a" stroke-width="1.3"/><line x1="675.9" y1="159.3" x2="680.5" y2="159.3" stroke="#6a6a6a" stroke-width="1.3"/><line x1="50.5" y1="155.0" x2="55.1" y2="155.0" stroke="#6a6a6a" stroke-width="1.3"/><line x1="675.9" y1="155.0" x2="680.5" y2="155.0" stroke="#6a6a6a" stroke-width="1.3"/><line x1="50.5" y1="151.7" x2="55.1" y2="151.7" stroke="#6a6a6a" stroke-width="1.3"/><line x1="675.9" y1="151.7" x2="680.5" y2="151.7" stroke="#6a6a6a" stroke-width="1.3"/><line x1="50.5" y1="149.0" x2="55.1" y2="149.0" stroke="#6a6a6a" stroke-width="1.3"/><line x1="675.9" y1="149.0" x2="680.5" y2="149.0" stroke="#6a6a6a" stroke-width="1.3"/><line x1="50.5" y1="146.8" x2="55.1" y2="146.8" stroke="#6a6a6a" stroke-width="1.3"/><line x1="675.9" y1="146.8" x2="680.5" y2="146.8" stroke="#6a6a6a" stroke-width="1.3"/><line x1="50.5" y1="144.8" x2="55.1" y2="144.8" stroke="#6a6a6a" stroke-width="1.3"/><line x1="675.9" y1="144.8" x2="680.5" y2="144.8" stroke="#6a6a6a" stroke-width="1.3"/><line x1="50.5" y1="143.1" x2="55.1" y2="143.1" stroke="#6a6a6a" stroke-width="1.3"/><line x1="675.9" y1="143.1" x2="680.5" y2="143.1" stroke="#6a6a6a" stroke-width="1.3"/><line x1="50.5" y1="141.5" x2="56.7" y2="141.5" stroke="#3c3c3c" stroke-width="1.3"/><line x1="674.3" y1="141.5" x2="680.5" y2="141.5" stroke="#3c3c3c" stroke-width="1.3"/><line x1="50.5" y1="131.3" x2="55.1" y2="131.3" stroke="#6a6a6a" stroke-width="1.3"/><line x1="675.9" y1="131.3" x2="680.5" y2="131.3" stroke="#6a6a6a" stroke-width="1.3"/><line x1="50.5" y1="125.3" x2="55.1" y2="125.3" stroke="#6a6a6a" stroke-width="1.3"/><line x1="675.9" y1="125.3" x2="680.5" y2="125.3" stroke="#6a6a6a" stroke-width="1.3"/><line x1="50.5" y1="121.0" x2="55.1" y2="121.0" stroke="#6a6a6a" stroke-width="1.3"/><line x1="675.9" y1="121.0" x2="680.5" y2="121.0" stroke="#6a6a6a" stroke-width="1.3"/><line x1="50.5" y1="117.7" x2="55.1" y2="117.7" stroke="#6a6a6a" stroke-width="1.3"/><line x1="675.9" y1="117.7" x2="680.5" y2="117.7" stroke="#6a6a6a" stroke-width="1.3"/><line x1="50.5" y1="115.0" x2="55.1" y2="115.0" stroke="#6a6a6a" stroke-width="1.3"/><line x1="675.9" y1="115.0" x2="680.5" y2="115.0" stroke="#6a6a6a" stroke-width="1.3"/><line x1="50.5" y1="112.8" x2="55.1" y2="112.8" stroke="#6a6a6a" stroke-width="1.3"/><line x1="675.9" y1="112.8" x2="680.5" y2="112.8" stroke="#6a6a6a" stroke-width="1.3"/><line x1="50.5" y1="110.8" x2="55.1" y2="110.8" stroke="#6a6a6a" stroke-width="1.3"/><line x1="675.9" y1="110.8" x2="680.5" y2="110.8" stroke="#6a6a6a" stroke-width="1.3"/><line x1="50.5" y1="109.1" x2="55.1" y2="109.1" stroke="#6a6a6a" stroke-width="1.3"/><line x1="675.9" y1="109.1" x2="680.5" y2="109.1" stroke="#6a6a6a" stroke-width="1.3"/><line x1="50.5" y1="107.5" x2="56.7" y2="107.5" stroke="#3c3c3c" stroke-width="1.3"/><line x1="674.3" y1="107.5" x2="680.5" y2="107.5" stroke="#3c3c3c" stroke-width="1.3"/><line x1="50.5" y1="97.3" x2="55.1" y2="97.3" stroke="#6a6a6a" stroke-width="1.3"/><line x1="675.9" y1="97.3" x2="680.5" y2="97.3" stroke="#6a6a6a" stroke-width="1.3"/><line x1="50.5" y1="91.3" x2="55.1" y2="91.3" stroke="#6a6a6a" stroke-width="1.3"/><line x1="675.9" y1="91.3" x2="680.5" y2="91.3" stroke="#6a6a6a" stroke-width="1.3"/><line x1="50.5" y1="87.0" x2="55.1" y2="87.0" stroke="#6a6a6a" stroke-width="1.3"/><line x1="675.9" y1="87.0" x2="680.5" y2="87.0" stroke="#6a6a6a" stroke-width="1.3"/><line x1="50.5" y1="83.7" x2="55.1" y2="83.7" stroke="#6a6a6a" stroke-width="1.3"/><line x1="675.9" y1="83.7" x2="680.5" y2="83.7" stroke="#6a6a6a" stroke-width="1.3"/><line x1="50.5" y1="81.0" x2="55.1" y2="81.0" stroke="#6a6a6a" stroke-width="1.3"/><line x1="675.9" y1="81.0" x2="680.5" y2="81.0" stroke="#6a6a6a" stroke-width="1.3"/><line x1="50.5" y1="78.8" x2="55.1" y2="78.8" stroke="#6a6a6a" stroke-width="1.3"/><line x1="675.9" y1="78.8" x2="680.5" y2="78.8" stroke="#6a6a6a" stroke-width="1.3"/><line x1="50.5" y1="76.8" x2="55.1" y2="76.8" stroke="#6a6a6a" stroke-width="1.3"/><line x1="675.9" y1="76.8" x2="680.5" y2="76.8" stroke="#6a6a6a" stroke-width="1.3"/><line x1="50.5" y1="75.1" x2="55.1" y2="75.1" stroke="#6a6a6a" stroke-width="1.3"/><line x1="675.9" y1="75.1" x2="680.5" y2="75.1" stroke="#6a6a6a" stroke-width="1.3"/><line x1="50.5" y1="73.5" x2="56.7" y2="73.5" stroke="#3c3c3c" stroke-width="1.3"/><line x1="674.3" y1="73.5" x2="680.5" y2="73.5" stroke="#3c3c3c" stroke-width="1.3"/><line x1="50.5" y1="63.3" x2="55.1" y2="63.3" stroke="#6a6a6a" stroke-width="1.3"/><line x1="675.9" y1="63.3" x2="680.5" y2="63.3" stroke="#6a6a6a" stroke-width="1.3"/><line x1="50.5" y1="57.3" x2="55.1" y2="57.3" stroke="#6a6a6a" stroke-width="1.3"/><line x1="675.9" y1="57.3" x2="680.5" y2="57.3" stroke="#6a6a6a" stroke-width="1.3"/><line x1="50.5" y1="53.0" x2="55.1" y2="53.0" stroke="#6a6a6a" stroke-width="1.3"/><line x1="675.9" y1="53.0" x2="680.5" y2="53.0" stroke="#6a6a6a" stroke-width="1.3"/><line x1="50.5" y1="49.7" x2="55.1" y2="49.7" stroke="#6a6a6a" stroke-width="1.3"/><line x1="675.9" y1="49.7" x2="680.5" y2="49.7" stroke="#6a6a6a" stroke-width="1.3"/><line x1="50.5" y1="47.0" x2="55.1" y2="47.0" stroke="#6a6a6a" stroke-width="1.3"/><line x1="675.9" y1="47.0" x2="680.5" y2="47.0" stroke="#6a6a6a" stroke-width="1.3"/><line x1="50.5" y1="44.8" x2="55.1" y2="44.8" stroke="#6a6a6a" stroke-width="1.3"/><line x1="675.9" y1="44.8" x2="680.5" y2="44.8" stroke="#6a6a6a" stroke-width="1.3"/><line x1="50.5" y1="42.8" x2="55.1" y2="42.8" stroke="#6a6a6a" stroke-width="1.3"/><line x1="675.9" y1="42.8" x2="680.5" y2="42.8" stroke="#6a6a6a" stroke-width="1.3"/><line x1="50.5" y1="41.1" x2="55.1" y2="41.1" stroke="#6a6a6a" stroke-width="1.3"/><line x1="675.9" y1="41.1" x2="680.5" y2="41.1" stroke="#6a6a6a" stroke-width="1.3"/><line x1="50.5" y1="39.5" x2="56.7" y2="39.5" stroke="#3c3c3c" stroke-width="1.3"/><line x1="674.3" y1="39.5" x2="680.5" y2="39.5" stroke="#3c3c3c" stroke-width="1.3"/><line x1="50.5" y1="29.3" x2="55.1" y2="29.3" stroke="#6a6a6a" stroke-width="1.3"/><line x1="675.9" y1="29.3" x2="680.5" y2="29.3" stroke="#6a6a6a" stroke-width="1.3"/><line x1="50.5" y1="23.3" x2="55.1" y2="23.3" stroke="#6a6a6a" stroke-width="1.3"/><line x1="675.9" y1="23.3" x2="680.5" y2="23.3" stroke="#6a6a6a" stroke-width="1.3"/><line x1="50.5" y1="19.0" x2="55.1" y2="19.0" stroke="#6a6a6a" stroke-width="1.3"/><line x1="675.9" y1="19.0" x2="680.5" y2="19.0" stroke="#6a6a6a" stroke-width="1.3"/><line x1="50.5" y1="15.7" x2="55.1" y2="15.7" stroke="#6a6a6a" stroke-width="1.3"/><line x1="675.9" y1="15.7" x2="680.5" y2="15.7" stroke="#6a6a6a" stroke-width="1.3"/><line x1="50.5" y1="13.0" x2="55.1" y2="13.0" stroke="#6a6a6a" stroke-width="1.3"/><line x1="675.9" y1="13.0" x2="680.5" y2="13.0" stroke="#6a6a6a" stroke-width="1.3"/>
<line x1="50.5" y1="297.3" x2="55.1" y2="297.3" stroke="#6a6a6a" stroke-width="1.3"/><line x1="675.9" y1="297.3" x2="680.5" y2="297.3" stroke="#6a6a6a" stroke-width="1.3"/><line x1="50.5" y1="283.3" x2="55.1" y2="283.3" stroke="#6a6a6a" stroke-width="1.3"/><line x1="675.9" y1="283.3" x2="680.5" y2="283.3" stroke="#6a6a6a" stroke-width="1.3"/><line x1="50.5" y1="272.4" x2="55.1" y2="272.4" stroke="#6a6a6a" stroke-width="1.3"/><line x1="675.9" y1="272.4" x2="680.5" y2="272.4" stroke="#6a6a6a" stroke-width="1.3"/><line x1="50.5" y1="263.5" x2="55.1" y2="263.5" stroke="#6a6a6a" stroke-width="1.3"/><line x1="675.9" y1="263.5" x2="680.5" y2="263.5" stroke="#6a6a6a" stroke-width="1.3"/><line x1="50.5" y1="255.9" x2="55.1" y2="255.9" stroke="#6a6a6a" stroke-width="1.3"/><line x1="675.9" y1="255.9" x2="680.5" y2="255.9" stroke="#6a6a6a" stroke-width="1.3"/><line x1="50.5" y1="249.4" x2="55.1" y2="249.4" stroke="#6a6a6a" stroke-width="1.3"/><line x1="675.9" y1="249.4" x2="680.5" y2="249.4" stroke="#6a6a6a" stroke-width="1.3"/><line x1="50.5" y1="243.6" x2="55.1" y2="243.6" stroke="#6a6a6a" stroke-width="1.3"/><line x1="675.9" y1="243.6" x2="680.5" y2="243.6" stroke="#6a6a6a" stroke-width="1.3"/><line x1="50.5" y1="238.5" x2="56.7" y2="238.5" stroke="#3c3c3c" stroke-width="1.3"/><line x1="674.3" y1="238.5" x2="680.5" y2="238.5" stroke="#3c3c3c" stroke-width="1.3"/><line x1="50.5" y1="204.6" x2="55.1" y2="204.6" stroke="#6a6a6a" stroke-width="1.3"/><line x1="675.9" y1="204.6" x2="680.5" y2="204.6" stroke="#6a6a6a" stroke-width="1.3"/><line x1="50.5" y1="184.8" x2="55.1" y2="184.8" stroke="#6a6a6a" stroke-width="1.3"/><line x1="675.9" y1="184.8" x2="680.5" y2="184.8" stroke="#6a6a6a" stroke-width="1.3"/><line x1="50.5" y1="170.8" x2="55.1" y2="170.8" stroke="#6a6a6a" stroke-width="1.3"/><line x1="675.9" y1="170.8" x2="680.5" y2="170.8" stroke="#6a6a6a" stroke-width="1.3"/><line x1="50.5" y1="159.9" x2="55.1" y2="159.9" stroke="#6a6a6a" stroke-width="1.3"/><line x1="675.9" y1="159.9" x2="680.5" y2="159.9" stroke="#6a6a6a" stroke-width="1.3"/>
<line x1="50.5" y1="446.5" x2="55.1" y2="446.5" stroke="#6a6a6a" stroke-width="1.3"/><line x1="675.9" y1="446.5" x2="680.5" y2="446.5" stroke="#6a6a6a" stroke-width="1.3"/><line x1="50.5" y1="439.9" x2="55.1" y2="439.9" stroke="#6a6a6a" stroke-width="1.3"/><line x1="675.9" y1="439.9" x2="680.5" y2="439.9" stroke="#6a6a6a" stroke-width="1.3"/><line x1="50.5" y1="434.4" x2="55.1" y2="434.4" stroke="#6a6a6a" stroke-width="1.3"/><line x1="675.9" y1="434.4" x2="680.5" y2="434.4" stroke="#6a6a6a" stroke-width="1.3"/><line x1="50.5" y1="429.8" x2="55.1" y2="429.8" stroke="#6a6a6a" stroke-width="1.3"/><line x1="675.9" y1="429.8" x2="680.5" y2="429.8" stroke="#6a6a6a" stroke-width="1.3"/><line x1="50.5" y1="425.8" x2="55.1" y2="425.8" stroke="#6a6a6a" stroke-width="1.3"/><line x1="675.9" y1="425.8" x2="680.5" y2="425.8" stroke="#6a6a6a" stroke-width="1.3"/><line x1="50.5" y1="422.3" x2="55.1" y2="422.3" stroke="#6a6a6a" stroke-width="1.3"/><line x1="675.9" y1="422.3" x2="680.5" y2="422.3" stroke="#6a6a6a" stroke-width="1.3"/><line x1="50.5" y1="419.2" x2="56.7" y2="419.2" stroke="#3c3c3c" stroke-width="1.3"/><line x1="674.3" y1="419.2" x2="680.5" y2="419.2" stroke="#3c3c3c" stroke-width="1.3"/><line x1="50.5" y1="398.5" x2="55.1" y2="398.5" stroke="#6a6a6a" stroke-width="1.3"/><line x1="675.9" y1="398.5" x2="680.5" y2="398.5" stroke="#6a6a6a" stroke-width="1.3"/><line x1="50.5" y1="386.5" x2="55.1" y2="386.5" stroke="#6a6a6a" stroke-width="1.3"/><line x1="675.9" y1="386.5" x2="680.5" y2="386.5" stroke="#6a6a6a" stroke-width="1.3"/><line x1="50.5" y1="377.9" x2="55.1" y2="377.9" stroke="#6a6a6a" stroke-width="1.3"/><line x1="675.9" y1="377.9" x2="680.5" y2="377.9" stroke="#6a6a6a" stroke-width="1.3"/><line x1="50.5" y1="371.3" x2="55.1" y2="371.3" stroke="#6a6a6a" stroke-width="1.3"/><line x1="675.9" y1="371.3" x2="680.5" y2="371.3" stroke="#6a6a6a" stroke-width="1.3"/><line x1="50.5" y1="365.8" x2="55.1" y2="365.8" stroke="#6a6a6a" stroke-width="1.3"/><line x1="675.9" y1="365.8" x2="680.5" y2="365.8" stroke="#6a6a6a" stroke-width="1.3"/><line x1="50.5" y1="361.2" x2="55.1" y2="361.2" stroke="#6a6a6a" stroke-width="1.3"/><line x1="675.9" y1="361.2" x2="680.5" y2="361.2" stroke="#6a6a6a" stroke-width="1.3"/><line x1="50.5" y1="357.2" x2="55.1" y2="357.2" stroke="#6a6a6a" stroke-width="1.3"/><line x1="675.9" y1="357.2" x2="680.5" y2="357.2" stroke="#6a6a6a" stroke-width="1.3"/><line x1="50.5" y1="353.7" x2="55.1" y2="353.7" stroke="#6a6a6a" stroke-width="1.3"/><line x1="675.9" y1="353.7" x2="680.5" y2="353.7" stroke="#6a6a6a" stroke-width="1.3"/><line x1="50.5" y1="350.6" x2="56.7" y2="350.6" stroke="#3c3c3c" stroke-width="1.3"/><line x1="674.3" y1="350.6" x2="680.5" y2="350.6" stroke="#3c3c3c" stroke-width="1.3"/><line x1="50.5" y1="329.9" x2="55.1" y2="329.9" stroke="#6a6a6a" stroke-width="1.3"/><line x1="675.9" y1="329.9" x2="680.5" y2="329.9" stroke="#6a6a6a" stroke-width="1.3"/><line x1="50.5" y1="317.9" x2="55.1" y2="317.9" stroke="#6a6a6a" stroke-width="1.3"/><line x1="675.9" y1="317.9" x2="680.5" y2="317.9" stroke="#6a6a6a" stroke-width="1.3"/><line x1="50.5" y1="309.3" x2="55.1" y2="309.3" stroke="#6a6a6a" stroke-width="1.3"/><line x1="675.9" y1="309.3" x2="680.5" y2="309.3" stroke="#6a6a6a" stroke-width="1.3"/>
<text transform="translate(49.5 144.8) scale(1 1.1)" text-anchor="end" style="font-family:&quot;Liberation Serif&quot;,serif;font-size:9.2px" fill="#474747">10<tspan dy="-3.6" font-size="5.7px">40</tspan></text>
<text transform="translate(49.5 110.8) scale(1 1.1)" text-anchor="end" style="font-family:&quot;Liberation Serif&quot;,serif;font-size:9.2px" fill="#474747">10<tspan dy="-3.6" font-size="5.7px">41</tspan></text>
<text transform="translate(49.5 76.8) scale(1 1.1)" text-anchor="end" style="font-family:&quot;Liberation Serif&quot;,serif;font-size:9.2px" fill="#474747">10<tspan dy="-3.6" font-size="5.7px">42</tspan></text>
<text transform="translate(49.5 42.8) scale(1 1.1)" text-anchor="end" style="font-family:&quot;Liberation Serif&quot;,serif;font-size:9.2px" fill="#474747">10<tspan dy="-3.6" font-size="5.7px">43</tspan></text>
<text transform="translate(49.5 422.5) scale(1 1.1)" text-anchor="end" style="font-family:&quot;Liberation Serif&quot;,serif;font-size:9.2px" fill="#474747">10<tspan dy="-3.6" font-size="5.7px">14</tspan></text>
<text transform="translate(49.5 353.9) scale(1 1.1)" text-anchor="end" style="font-family:&quot;Liberation Serif&quot;,serif;font-size:9.2px" fill="#474747">10<tspan dy="-3.6" font-size="5.7px">15</tspan></text>
<text transform="translate(49.5 241.8) scale(1 1.1)" text-anchor="end" style="font-family:&quot;Liberation Serif&quot;,serif;font-size:9.2px" fill="#474747">10<tspan dy="-3.6" font-size="5.7px">1</tspan></text>
<text transform="translate(49.5 300.6) scale(1 1.2)" text-anchor="end" style="font-family:&quot;Liberation Serif&quot;,serif;font-size:8.8px" fill="#474747">3</text>
<text transform="translate(49.5 286.6) scale(1 1.2)" text-anchor="end" style="font-family:&quot;Liberation Serif&quot;,serif;font-size:8.8px" fill="#474747">4</text>
<text transform="translate(49.5 275.7) scale(1 1.2)" text-anchor="end" style="font-family:&quot;Liberation Serif&quot;,serif;font-size:8.8px" fill="#474747">5</text>
<text transform="translate(49.5 266.8) scale(1 1.2)" text-anchor="end" style="font-family:&quot;Liberation Serif&quot;,serif;font-size:8.8px" fill="#474747">6</text>
<text transform="translate(49.5 259.2) scale(1 1.2)" text-anchor="end" style="font-family:&quot;Liberation Serif&quot;,serif;font-size:8.8px" fill="#474747">7</text>
<text transform="translate(49.5 252.7) scale(1 1.2)" text-anchor="end" style="font-family:&quot;Liberation Serif&quot;,serif;font-size:8.8px" fill="#474747">8</text>
<text transform="translate(49.5 246.9) scale(1 1.2)" text-anchor="end" style="font-family:&quot;Liberation Serif&quot;,serif;font-size:8.8px" fill="#474747">9</text>
<text transform="translate(49.5 207.9) scale(1 1.2)" text-anchor="end" style="font-family:&quot;Liberation Serif&quot;,serif;font-size:8.8px" fill="#474747">20</text>
<text transform="translate(49.5 188.1) scale(1 1.2)" text-anchor="end" style="font-family:&quot;Liberation Serif&quot;,serif;font-size:8.8px" fill="#474747">30</text>
<text transform="translate(49.5 174.1) scale(1 1.2)" text-anchor="end" style="font-family:&quot;Liberation Serif&quot;,serif;font-size:8.8px" fill="#474747">40</text>
<text transform="translate(49.5 163.2) scale(1 1.2)" text-anchor="end" style="font-family:&quot;Liberation Serif&quot;,serif;font-size:8.8px" fill="#474747">50</text>
<line x1="44.3" y1="458.2" x2="52.0" y2="458.2" stroke="#474747" stroke-width="0.9"/>
<text transform="translate(54.5 461.6) scale(1 1.2)" style="font-family:&quot;Liberation Serif&quot;,serif;font-size:11.4px" fill="#474747">150</text>
<line x1="111.6" y1="458.2" x2="119.3" y2="458.2" stroke="#474747" stroke-width="0.9"/>
<text transform="translate(121.8 461.6) scale(1 1.2)" style="font-family:&quot;Liberation Serif&quot;,serif;font-size:11.4px" fill="#474747">100</text>
<line x1="178.9" y1="458.2" x2="186.6" y2="458.2" stroke="#474747" stroke-width="0.9"/>
<text transform="translate(189.1 461.6) scale(1 1.2)" style="font-family:&quot;Liberation Serif&quot;,serif;font-size:11.4px" fill="#474747">50</text>
<text transform="translate(259.1 461.6) scale(1 1.2)" text-anchor="middle" style="font-family:&quot;Liberation Serif&quot;,serif;font-size:11.4px" fill="#474747">0</text>
<text transform="translate(326.4 461.6) scale(1 1.2)" text-anchor="middle" style="font-family:&quot;Liberation Serif&quot;,serif;font-size:11.4px" fill="#474747">50</text>
<text transform="translate(393.7 461.6) scale(1 1.2)" text-anchor="middle" style="font-family:&quot;Liberation Serif&quot;,serif;font-size:11.4px" fill="#474747">100</text>
<text transform="translate(461.0 461.6) scale(1 1.2)" text-anchor="middle" style="font-family:&quot;Liberation Serif&quot;,serif;font-size:11.4px" fill="#474747">150</text>
<text transform="translate(528.3 461.6) scale(1 1.2)" text-anchor="middle" style="font-family:&quot;Liberation Serif&quot;,serif;font-size:11.4px" fill="#474747">200</text>
<text transform="translate(595.7 461.6) scale(1 1.2)" text-anchor="middle" style="font-family:&quot;Liberation Serif&quot;,serif;font-size:11.4px" fill="#474747">250</text>
<text transform="translate(663.0 461.6) scale(1 1.2)" text-anchor="middle" style="font-family:&quot;Liberation Serif&quot;,serif;font-size:11.4px" fill="#474747">300</text>
<text x="212.9" y="478.6" textLength="304.5" lengthAdjust="spacingAndGlyphs" style="font-family:&quot;Liberation Serif&quot;,serif;font-size:17.2px" fill="#474747">Rest-frame Days Relative to First Light</text>
<text transform="translate(31.4 86) rotate(-90)" text-anchor="middle" style="font-family:&quot;Liberation Serif&quot;,serif;font-size:14px" fill="#474747"><tspan style="font-style:italic">L</tspan><tspan font-size="9.5px" dy="1.0">bol</tspan><tspan dy="-1.0"> (erg s</tspan><tspan font-size="9px" dy="-5">−1</tspan><tspan dy="5">)</tspan></text>
<text transform="translate(35 231.3) rotate(-90)" text-anchor="middle" style="font-family:&quot;Liberation Serif&quot;,serif;font-size:9.8px" fill="#474747">Blackbody Temperature (10<tspan font-size="7px" dy="-3.5">3</tspan><tspan dy="3.5"> K)</tspan></text>
<text transform="translate(31 377.7) rotate(-90)" text-anchor="middle" style="font-family:&quot;Liberation Serif&quot;,serif;font-size:9.4px" fill="#474747">Blackbody Radius (cm)</text>
</svg></body></html>
